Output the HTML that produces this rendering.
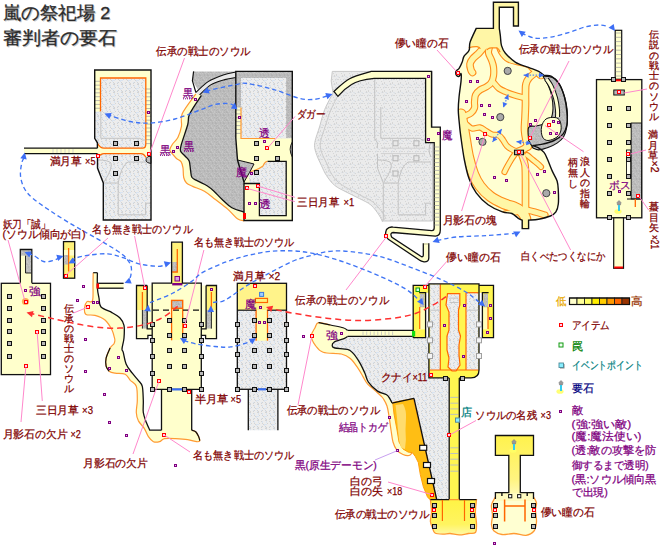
<!DOCTYPE html>
<html><head><meta charset="utf-8"><title>嵐の祭祀場2 審判者の要石</title>
<style>
html,body{margin:0;padding:0;background:#fff;}
body{width:662px;height:546px;overflow:hidden;font-family:"Liberation Sans",sans-serif;}
svg{display:block;}
svg text{font-family:"Liberation Sans",sans-serif;}
</style></head><body>
<svg width="662" height="546" viewBox="0 0 662 546">
<defs>
<pattern id="st" width="8" height="8" patternUnits="userSpaceOnUse"><rect width="8" height="8" fill="#ededed"/><rect x="1" y="2" width="1" height="1" fill="#d4d4d4"/><rect x="2" y="4" width="1" height="1" fill="#d4d4d4"/><rect x="1" y="4" width="1" height="1" fill="#d4d4d4"/><rect x="3" y="7" width="1" height="1" fill="#d4d4d4"/><rect x="6" y="2" width="1" height="1" fill="#d4d4d4"/><rect x="6" y="7" width="1" height="1" fill="#d4d4d4"/><rect x="2" y="3" width="1" height="1" fill="#d4d4d4"/><rect x="7" y="0" width="1" height="1" fill="#d4d4d4"/><rect x="5" y="3" width="1" height="1" fill="#d4d4d4"/><rect x="5" y="5" width="1" height="1" fill="#d4d4d4"/><rect x="0" y="0" width="1" height="1" fill="#dae4f0"/><rect x="2" y="5" width="1" height="1" fill="#dae4f0"/><rect x="0" y="1" width="1" height="1" fill="#dae4f0"/><rect x="2" y="0" width="1" height="1" fill="#dae4f0"/><rect x="1" y="0" width="1" height="1" fill="#dae4f0"/><rect x="2" y="6" width="1" height="1" fill="#dae4f0"/><rect x="1" y="3" width="1" height="1" fill="#dae4f0"/><rect x="6" y="6" width="1" height="1" fill="#dae4f0"/><rect x="6" y="5" width="1" height="1" fill="#dae4f0"/><rect x="5" y="2" width="1" height="1" fill="#dae4f0"/></pattern>
<pattern id="sd" width="8" height="8" patternUnits="userSpaceOnUse"><rect width="8" height="8" fill="#bcbcbc"/><rect x="4" y="3" width="1" height="1" fill="#b2b2b2"/><rect x="0" y="6" width="1" height="1" fill="#b2b2b2"/><rect x="2" y="0" width="1" height="1" fill="#b2b2b2"/><rect x="3" y="0" width="1" height="1" fill="#b2b2b2"/><rect x="1" y="5" width="1" height="1" fill="#b2b2b2"/><rect x="7" y="3" width="1" height="1" fill="#b2b2b2"/><rect x="0" y="3" width="1" height="1" fill="#b2b2b2"/><rect x="6" y="5" width="1" height="1" fill="#b2b2b2"/><rect x="4" y="2" width="1" height="1" fill="#b2b2b2"/><rect x="2" y="7" width="1" height="1" fill="#b2b2b2"/><rect x="7" y="2" width="1" height="1" fill="#b2b2b2"/><rect x="0" y="0" width="1" height="1" fill="#b2b2b2"/><rect x="6" y="7" width="1" height="1" fill="#c6c6c6"/><rect x="5" y="1" width="1" height="1" fill="#c6c6c6"/><rect x="2" y="1" width="1" height="1" fill="#c6c6c6"/><rect x="1" y="4" width="1" height="1" fill="#c6c6c6"/><rect x="3" y="6" width="1" height="1" fill="#c6c6c6"/><rect x="6" y="0" width="1" height="1" fill="#c6c6c6"/><rect x="4" y="7" width="1" height="1" fill="#c6c6c6"/><rect x="0" y="1" width="1" height="1" fill="#c6c6c6"/><rect x="3" y="5" width="1" height="1" fill="#c6c6c6"/><rect x="6" y="4" width="1" height="1" fill="#c6c6c6"/></pattern>
<pattern id="sl" width="8" height="8" patternUnits="userSpaceOnUse"><rect width="8" height="8" fill="#ebebeb"/><rect x="0" y="2" width="1" height="1" fill="#d6d6d6"/><rect x="2" y="7" width="1" height="1" fill="#d6d6d6"/><rect x="4" y="7" width="1" height="1" fill="#d6d6d6"/><rect x="5" y="1" width="1" height="1" fill="#d6d6d6"/><rect x="6" y="3" width="1" height="1" fill="#d6d6d6"/><rect x="1" y="7" width="1" height="1" fill="#d6d6d6"/><rect x="6" y="4" width="1" height="1" fill="#d6d6d6"/><rect x="0" y="3" width="1" height="1" fill="#d6d6d6"/><rect x="7" y="7" width="1" height="1" fill="#d6d6d6"/><rect x="3" y="5" width="1" height="1" fill="#d6d6d6"/><rect x="5" y="4" width="1" height="1" fill="#dfe3e8"/><rect x="0" y="7" width="1" height="1" fill="#dfe3e8"/><rect x="2" y="4" width="1" height="1" fill="#dfe3e8"/><rect x="7" y="4" width="1" height="1" fill="#dfe3e8"/><rect x="0" y="6" width="1" height="1" fill="#dfe3e8"/><rect x="2" y="5" width="1" height="1" fill="#dfe3e8"/><rect x="1" y="4" width="1" height="1" fill="#dfe3e8"/><rect x="7" y="0" width="1" height="1" fill="#dfe3e8"/></pattern>
<linearGradient id="gy" x1="0" y1="0" x2="0" y2="1"><stop offset="0" stop-color="#fff345"/><stop offset="0.7" stop-color="#fff460"/><stop offset="1" stop-color="#fff9a8"/></linearGradient>
<linearGradient id="gy2" x1="0" y1="0" x2="0" y2="1"><stop offset="0" stop-color="#fff24d"/><stop offset="0.7" stop-color="#fff480"/><stop offset="1" stop-color="#fffbc0"/></linearGradient>
<symbol id="ks" width="10" height="14" viewBox="0 0 10 14"><ellipse cx="4" cy="11.5" rx="3.6" ry="2.3" fill="#ffff66" opacity="0.9"/><path d="M5,0.5 L7,2.5 L6.5,5 L3.5,5 L3,2.5 Z" fill="#999" stroke="#777" stroke-width="0.5"/><rect x="4" y="5" width="2" height="6" fill="#33ccee"/></symbol>
<symbol id="pl" width="5" height="5" viewBox="0 0 5 5"><rect x="0.5" y="0.5" width="4" height="4" fill="#b8b8b8" stroke="#111" stroke-width="1"/></symbol>
<symbol id="it" width="4" height="4" viewBox="0 0 4 4"><rect x="0.5" y="0.5" width="3" height="3" fill="#ffd0f4" stroke="#ff0000" stroke-width="1"/></symbol>
<symbol id="en" width="3" height="3" viewBox="0 0 3 3"><rect x="0.5" y="0.5" width="2" height="2" fill="#e8c0f0" stroke="#800080" stroke-width="1"/></symbol>
</defs>
<g font-weight="normal">
</g>
<path d="M94.7,70 H151 V148 H97.4 V142.8 L94.7,138.3 Z" fill="#ffffcc" stroke="none" stroke-width="1" />
<path d="M100.5,78 H145.8 V148 H97.4 V142.8 L94.7,138.3 V111.5 H100.5 Z" fill="url(#st)" stroke="none" stroke-width="1" />
<path d="M97.4,153.6 H151 V220 H103.3 V183 L97.5,168 Z" fill="url(#st)" stroke="none" stroke-width="1" />
<path d="M97.4,143 Q100,148 104,148.2 H142.6 Q145.8,147 145.8,144 V148 H151 V157.5 H146 Q144,153.6 141,153.6 H104 Q100,154 98,157.5 H97.4 Z" fill="#ffffcc" stroke="none" stroke-width="1" />
<path d="M151,78 V148" fill="none" stroke="#ffffcc" stroke-width="0" />
<rect x="145.8" y="78" width="5.2" height="66" fill="#ffffcc" stroke="none" stroke-width="1" />
<line x1="95" y1="81.3" x2="100.5" y2="81.3" stroke="#a8a8a8" stroke-width="0.8" />
<line x1="95" y1="85.14999999999999" x2="100.5" y2="85.14999999999999" stroke="#a8a8a8" stroke-width="0.8" />
<line x1="95" y1="88.99999999999999" x2="100.5" y2="88.99999999999999" stroke="#a8a8a8" stroke-width="0.8" />
<line x1="95" y1="92.84999999999998" x2="100.5" y2="92.84999999999998" stroke="#a8a8a8" stroke-width="0.8" />
<line x1="95" y1="96.69999999999997" x2="100.5" y2="96.69999999999997" stroke="#a8a8a8" stroke-width="0.8" />
<line x1="95" y1="100.54999999999997" x2="100.5" y2="100.54999999999997" stroke="#a8a8a8" stroke-width="0.8" />
<line x1="95" y1="104.39999999999996" x2="100.5" y2="104.39999999999996" stroke="#a8a8a8" stroke-width="0.8" />
<line x1="95" y1="108.24999999999996" x2="100.5" y2="108.24999999999996" stroke="#a8a8a8" stroke-width="0.8" />
<line x1="145.8" y1="89" x2="151" y2="89" stroke="#a8a8a8" stroke-width="0.8" />
<line x1="145.8" y1="92.9" x2="151" y2="92.9" stroke="#a8a8a8" stroke-width="0.8" />
<line x1="145.8" y1="96.80000000000001" x2="151" y2="96.80000000000001" stroke="#a8a8a8" stroke-width="0.8" />
<line x1="145.8" y1="100.70000000000002" x2="151" y2="100.70000000000002" stroke="#a8a8a8" stroke-width="0.8" />
<line x1="145.8" y1="104.60000000000002" x2="151" y2="104.60000000000002" stroke="#a8a8a8" stroke-width="0.8" />
<line x1="145.8" y1="108.50000000000003" x2="151" y2="108.50000000000003" stroke="#a8a8a8" stroke-width="0.8" />
<line x1="145.8" y1="112.40000000000003" x2="151" y2="112.40000000000003" stroke="#a8a8a8" stroke-width="0.8" />
<line x1="145.8" y1="116.30000000000004" x2="151" y2="116.30000000000004" stroke="#a8a8a8" stroke-width="0.8" />
<line x1="145.8" y1="120.20000000000005" x2="151" y2="120.20000000000005" stroke="#a8a8a8" stroke-width="0.8" />
<line x1="145.8" y1="124.10000000000005" x2="151" y2="124.10000000000005" stroke="#a8a8a8" stroke-width="0.8" />
<line x1="145.8" y1="128.00000000000006" x2="151" y2="128.00000000000006" stroke="#a8a8a8" stroke-width="0.8" />
<line x1="145.8" y1="131.90000000000006" x2="151" y2="131.90000000000006" stroke="#a8a8a8" stroke-width="0.8" />
<line x1="145.8" y1="135.80000000000007" x2="151" y2="135.80000000000007" stroke="#a8a8a8" stroke-width="0.8" />
<line x1="145.8" y1="139.70000000000007" x2="151" y2="139.70000000000007" stroke="#a8a8a8" stroke-width="0.8" />
<line x1="145.8" y1="143.60000000000008" x2="151" y2="143.60000000000008" stroke="#a8a8a8" stroke-width="0.8" />
<path d="M100.5,111.5 V78 H145.8 V144 Q145.8,148.2 142.6,148.2 H104 Q100,148 97.6,143.5" fill="none" stroke="#ff6600" stroke-width="1.3" />
<path d="M98,157.5 Q100.5,153.6 104,153.6 H141 Q144,153.6 146,157.5" fill="none" stroke="#ff6600" stroke-width="1.3" />
<path d="M100.8,111.5 V138.3 H140 L142,140 H145.5" fill="none" stroke="#c4c4c4" stroke-width="1" />
<path d="M98,160 Q108,160 111,163 Q113,168 104,182 M103.3,183 H118.2 V214.8 H145.6 V203.2 H151" fill="none" stroke="#c4c4c4" stroke-width="1" />
<path d="M118.2,183 Q121,166 128,162 H151" fill="none" stroke="#c4c4c4" stroke-width="1" />
<path d="M151,156.5 H148 Q145.5,158 146,161 Q147,163 151,163.5 Z" fill="url(#sd)" stroke="#111" stroke-width="0.9" />
<path d="M97.4,148.2 V142.8 L94.7,138.3 V70 H151 V220 H103.3 V183 L97.5,168 V153.6" fill="none" stroke="#111" stroke-width="1.4" />
<rect x="24" y="148.2" width="73.4" height="5.4" fill="#ffffcc" stroke="none" stroke-width="1" />
<line x1="24" y1="148.2" x2="97.4" y2="148.2" stroke="#111" stroke-width="1.3" />
<line x1="24" y1="153.6" x2="97.4" y2="153.6" stroke="#111" stroke-width="1.3" />
<line x1="53" y1="149" x2="53" y2="153" stroke="#c8c8c8" stroke-width="0.8" />
<line x1="57" y1="149" x2="57" y2="153" stroke="#c8c8c8" stroke-width="0.8" />
<line x1="61" y1="149" x2="61" y2="153" stroke="#c8c8c8" stroke-width="0.8" />
<line x1="65" y1="149" x2="65" y2="153" stroke="#c8c8c8" stroke-width="0.8" />
<line x1="69" y1="149" x2="69" y2="153" stroke="#c8c8c8" stroke-width="0.8" />
<line x1="73" y1="149" x2="73" y2="153" stroke="#c8c8c8" stroke-width="0.8" />
<use href="#pl" x="113" y="141"/>
<use href="#pl" x="134" y="141"/>
<use href="#pl" x="113" y="156"/>
<use href="#pl" x="134" y="156"/>
<use href="#pl" x="113" y="171"/>
<use href="#it" x="96" y="154"/>
<use href="#it" x="147" y="152"/>
<use href="#en" x="147" y="111"/>
<path d="M201.4,95.3 C199.4,98.4 192.0,108.9 189.7,113.8 C187.4,118.7 189.1,119.8 187.7,124.8 C186.3,129.8 182.7,139.6 181.5,144.0 C180.3,148.4 179.9,149.0 180.5,151.0 C181.1,153.0 183.6,154.3 185.0,156.0 C186.4,157.7 188.3,158.6 189.2,161.0 C190.1,163.4 190.1,167.8 190.6,170.6 C191.1,173.3 190.8,175.8 192.0,177.5 C193.2,179.2 195.0,179.5 197.5,180.9 C200.0,182.3 204.3,184.0 207.1,185.7 C209.8,187.4 211.5,188.9 214.0,191.2 C216.5,193.5 219.2,196.8 222.2,199.5 C225.2,202.2 228.2,205.6 231.9,207.7 C235.6,209.8 242.1,211.3 244.2,212.0 L244.2,183 L237.5,160 L235.8,138 V71.4 H193.6 L192.4,80.8 Z" fill="url(#sd)" stroke="none" stroke-width="1" />
<path d="M195.8,92.4 C197.9,90.6 203.6,84.5 208.2,81.6 C212.8,78.7 218.6,76.6 223.2,75.0 C227.8,73.4 233.7,72.5 235.8,72.0 L235.8,77.5 C234.0,77.8 229.0,78.4 224.8,79.6 C220.6,80.8 215.0,82.2 210.7,84.9 C206.4,87.6 200.8,93.9 198.8,95.7 Z" fill="#e8e8e8" stroke="none" stroke-width="1" />
<path d="M195.8,92.4 C197.9,90.6 203.6,84.5 208.2,81.6 C212.8,78.7 218.6,76.6 223.2,75.0 C227.8,73.4 233.7,72.5 235.8,72.0" fill="none" stroke="#111" stroke-width="1.1" />
<path d="M198.8,95.7 C200.8,93.9 206.4,87.6 210.7,84.9 C215.0,82.2 220.6,80.8 224.8,79.6 C229.0,78.4 234.0,77.8 235.8,77.5" fill="none" stroke="#111" stroke-width="1.1" />
<path d="M195.9,93.9 C193.6,97.2 184.6,108.4 182.2,113.8 C179.8,119.2 182.2,122.3 181.5,126.2 C180.8,130.1 179.5,134.2 178.0,137.2 C176.5,140.2 174.0,141.9 172.6,144.0 C171.2,146.1 170.0,148.2 169.8,149.6 C169.6,151.0 170.3,151.3 171.4,152.7 C172.5,154.1 174.6,156.7 176.2,158.2 C177.8,159.7 179.9,160.1 181.0,161.7 C182.1,163.3 182.6,165.3 183.0,167.9 C183.4,170.5 183.1,175.0 183.7,177.5 C184.3,180.0 185.0,181.5 186.5,183.0 C188.0,184.5 189.7,185.0 192.7,186.4 C195.7,187.8 200.6,189.0 204.4,191.2 C208.2,193.4 211.5,196.5 215.4,199.5 C219.3,202.5 224.0,205.9 227.7,209.1 C231.4,212.3 234.7,216.8 237.4,218.7 C240.2,220.6 243.1,220.5 244.2,220.8 L244.2,212.0 C242.1,211.3 235.6,209.8 231.9,207.7 C228.2,205.6 225.2,202.2 222.2,199.5 C219.2,196.8 216.5,193.5 214.0,191.2 C211.5,188.9 209.8,187.4 207.1,185.7 C204.3,184.0 200.0,182.3 197.5,180.9 C195.0,179.5 193.2,179.2 192.0,177.5 C190.8,175.8 191.1,173.3 190.6,170.6 C190.1,167.8 190.1,163.4 189.2,161.0 C188.3,158.6 186.4,157.7 185.0,156.0 C183.6,154.3 181.1,153.0 180.5,151.0 C179.9,149.0 180.3,148.4 181.5,144.0 C182.7,139.6 186.3,129.8 187.7,124.8 C189.1,119.8 187.4,118.7 189.7,113.8 C192.0,108.9 199.4,98.4 201.4,95.3 Z" fill="#ffffcc" stroke="none" stroke-width="1" />
<path d="M195.9,93.9 C193.6,97.2 184.6,108.4 182.2,113.8 C179.8,119.2 182.2,122.3 181.5,126.2 C180.8,130.1 179.5,134.2 178.0,137.2 C176.5,140.2 174.0,141.9 172.6,144.0 C171.2,146.1 170.0,148.2 169.8,149.6 C169.6,151.0 170.3,151.3 171.4,152.7 C172.5,154.1 174.6,156.7 176.2,158.2 C177.8,159.7 179.9,160.1 181.0,161.7 C182.1,163.3 182.6,165.3 183.0,167.9 C183.4,170.5 183.1,175.0 183.7,177.5 C184.3,180.0 185.0,181.5 186.5,183.0 C188.0,184.5 189.7,185.0 192.7,186.4 C195.7,187.8 200.6,189.0 204.4,191.2 C208.2,193.4 211.5,196.5 215.4,199.5 C219.3,202.5 224.0,205.9 227.7,209.1 C231.4,212.3 234.7,216.8 237.4,218.7 C240.2,220.6 243.1,220.5 244.2,220.8" fill="none" stroke="#ff9a33" stroke-width="1.2" />
<path d="M201.4,95.3 C199.4,98.4 192.0,108.9 189.7,113.8 C187.4,118.7 189.1,119.8 187.7,124.8 C186.3,129.8 182.7,139.6 181.5,144.0 C180.3,148.4 179.9,149.0 180.5,151.0 C181.1,153.0 183.6,154.3 185.0,156.0 C186.4,157.7 188.3,158.6 189.2,161.0 C190.1,163.4 190.1,167.8 190.6,170.6 C191.1,173.3 190.8,175.8 192.0,177.5 C193.2,179.2 195.0,179.5 197.5,180.9 C200.0,182.3 204.3,184.0 207.1,185.7 C209.8,187.4 211.5,188.9 214.0,191.2 C216.5,193.5 219.2,196.8 222.2,199.5 C225.2,202.2 228.2,205.6 231.9,207.7 C235.6,209.8 242.1,211.3 244.2,212.0" fill="none" stroke="#111" stroke-width="1.3" />
<path d="M193.6,71.4 L192.4,80.8 L195.9,92.5" fill="none" stroke="#111" stroke-width="1.2" />
<rect x="235.8" y="71.4" width="56.5" height="67" fill="url(#sd)" stroke="none" stroke-width="1" />
<rect x="241" y="78" width="45" height="60.5" fill="url(#st)" stroke="none" stroke-width="1" />
<path d="M235.8,138.5 H292.3 V220.5 H244 V182 L237.5,160 Z" fill="#ffffcc" stroke="none" stroke-width="1" />
<rect x="236" y="107.5" width="5" height="31" fill="#ffffcc" stroke="none" stroke-width="1" />
<line x1="236" y1="110" x2="241" y2="110" stroke="#a8a8a8" stroke-width="0.8" />
<line x1="236" y1="113.9" x2="241" y2="113.9" stroke="#a8a8a8" stroke-width="0.8" />
<line x1="236" y1="117.80000000000001" x2="241" y2="117.80000000000001" stroke="#a8a8a8" stroke-width="0.8" />
<line x1="236" y1="121.70000000000002" x2="241" y2="121.70000000000002" stroke="#a8a8a8" stroke-width="0.8" />
<line x1="236" y1="125.60000000000002" x2="241" y2="125.60000000000002" stroke="#a8a8a8" stroke-width="0.8" />
<line x1="236" y1="129.50000000000003" x2="241" y2="129.50000000000003" stroke="#a8a8a8" stroke-width="0.8" />
<line x1="236" y1="133.40000000000003" x2="241" y2="133.40000000000003" stroke="#a8a8a8" stroke-width="0.8" />
<path d="M241,107.5 V138.5 H275" fill="none" stroke="#ff9a33" stroke-width="1.2" />
<path d="M267.6,161.3 H286.2 V215.6 H259.4 V183 H250 Q248,175 249,172 Q258,170 263,166 Q265,161.3 267.6,161.3 Z" fill="url(#st)" stroke="none" stroke-width="1" />
<path d="M249,172 Q258,170 263,166 Q265,161.3 267.6,161.3" fill="none" stroke="#ff9a33" stroke-width="1.2" />
<path d="M267.6,161.3 H286.2 V215.6 H259.4 V183.5 H244" fill="none" stroke="#111" stroke-width="1.3" />
<path d="M237.5,160 Q246,162 254,164 Q250,172 244,182 Z" fill="url(#sd)" stroke="none" stroke-width="1" />
<path d="M237.5,160 Q246,162 254,164 Q250,172 244,182" fill="none" stroke="#111" stroke-width="1" />
<path d="M292.3,142 Q288,149 292.3,157" fill="url(#sd)" stroke="#111" stroke-width="0.9" />
<path d="M235.8,138 V71.4 H292.3 V220.5 H244 V182 L237.5,160 L235.8,138" fill="none" stroke="#111" stroke-width="1.4" />
<use href="#pl" x="254" y="141"/>
<use href="#pl" x="275" y="141"/>
<use href="#pl" x="254" y="156"/>
<use href="#pl" x="275" y="156"/>
<use href="#pl" x="254" y="170"/>
<use href="#it" x="265" y="146"/>
<use href="#it" x="245" y="186"/>
<use href="#it" x="256" y="184"/>
<rect x="243" y="213" width="3" height="6" fill="#ff0000"/>
<use href="#en" x="263" y="140"/>
<use href="#en" x="250" y="172"/>
<use href="#en" x="248" y="202"/>
<use href="#en" x="254" y="202"/>
<use href="#en" x="238" y="116"/>
<use href="#en" x="194" y="98"/>
<use href="#en" x="172" y="150"/>
<use href="#en" x="176" y="146"/>
<path d="M332.3,71.4 L431.5,71.4 L434.0,229.0 L425.0,222.0 L382.4,221.6 Z" fill="none" stroke="none" stroke-width="1" />
<path d="M332.3,71.4 H432.5 V221 H382.4 L382.4,221.6 C381.8,220.5 380.9,217.8 379.0,215.0 C377.1,212.2 374.2,207.8 370.9,205.0 C367.6,202.2 363.4,200.7 359.3,198.5 C355.2,196.3 350.1,194.1 346.0,191.9 C341.9,189.7 337.9,188.1 334.6,185.3 C331.3,182.6 328.6,178.7 326.4,175.4 C324.2,172.1 323.2,169.3 321.4,165.5 C319.6,161.7 316.9,156.2 315.8,152.3 C314.7,148.5 314.1,146.8 314.8,142.4 C315.5,138.0 318.2,131.5 319.8,126.0 C321.4,120.5 322.5,115.0 324.7,109.5 C326.9,104.0 331.6,95.8 333.0,93.0 L331.2,81 Z" fill="url(#sl)" stroke="#c9c9c9" stroke-width="1" />
<path d="M386.0,219.0 C385.3,217.8 384.2,214.8 382.0,212.0 C379.8,209.2 376.7,204.8 373.0,202.0 C369.3,199.2 364.2,197.2 360.0,195.0 C355.8,192.8 351.7,190.7 348.0,188.5 C344.3,186.3 340.8,184.6 338.0,182.0 C335.2,179.4 332.8,176.0 331.0,173.0 C329.2,170.0 328.6,167.5 327.0,164.0 C325.4,160.5 322.6,155.6 321.5,152.0 C320.4,148.4 319.9,146.7 320.5,142.5 C321.1,138.3 323.4,132.1 325.0,127.0 C326.6,121.9 328.0,117.0 330.0,112.0 C332.0,107.0 335.8,99.5 337.0,97.0" fill="none" stroke="#cccccc" stroke-width="1" />
<path d="M374.7,78 V138.3 L377.4,142.8 V148.2 M377.5,153.6 V168 L383.3,183 V220.5" fill="none" stroke="#c4c4c4" stroke-width="1" />
<path d="M380.8,107 V138.3 H420 L422,140 H425.5" fill="none" stroke="#c4c4c4" stroke-width="1" />
<path d="M378,160 Q388,160 391,163 Q393,168 384,182 M383.3,183 H398.2 V214.8 H425.6 V203.2 H431" fill="none" stroke="#c4c4c4" stroke-width="1" />
<path d="M398.2,183 Q401,166 408,162 H431" fill="none" stroke="#c4c4c4" stroke-width="1" />
<path d="M380.8,148.2 H425 M380.8,153.6 H425" fill="none" stroke="#d2d2d2" stroke-width="1" />
<rect x="393.0" y="140.8" width="5" height="5" fill="#e8e8e8" stroke="#b4b4b4" stroke-width="1" />
<rect x="413.9" y="140.8" width="5" height="5" fill="#e8e8e8" stroke="#b4b4b4" stroke-width="1" />
<rect x="393.0" y="155.8" width="5" height="5" fill="#e8e8e8" stroke="#b4b4b4" stroke-width="1" />
<rect x="413.9" y="155.8" width="5" height="5" fill="#e8e8e8" stroke="#b4b4b4" stroke-width="1" />
<rect x="393.0" y="171.0" width="5" height="5" fill="#e8e8e8" stroke="#b4b4b4" stroke-width="1" />
<path d="M431,142 Q427,150 431,157" fill="none" stroke="#c0c0c0" stroke-width="1" />
<path d="M333.9,91.4 C336.5,89.3 343.4,82.0 349.6,78.7 C355.8,75.4 367.6,72.6 371.2,71.4 H431.5 V127.2 H440.3 V230 Q440.3,236.1 435.4,236.1 L393,232.5 Q389.5,233 391.9,237.4 L421.5,256.7 Q423.3,257 423.3,255 V244 H428.8 V258 Q428.8,262 424,261.8 Q421,261.5 419.7,260.3 L388.3,239.2 Q384,236 386.5,229.5 Q389,226.5 393.1,227.1 L431.8,230.7 Q434.2,230.5 434.2,228 V142.6 H425.6 V78.3 H374.2 Q358,80 351.6,84.5 Q344,89 337.9,96.3 Z" fill="#ffffcc" stroke="#111" stroke-width="1.3" />
<line x1="423.9" y1="244" x2="428.2" y2="244" stroke="#ffffcc" stroke-width="1.6" />
<line x1="434.5" y1="147" x2="440" y2="147" stroke="#a8a8a8" stroke-width="0.8" />
<line x1="434.5" y1="150.9" x2="440" y2="150.9" stroke="#a8a8a8" stroke-width="0.8" />
<line x1="434.5" y1="154.8" x2="440" y2="154.8" stroke="#a8a8a8" stroke-width="0.8" />
<line x1="434.5" y1="158.70000000000002" x2="440" y2="158.70000000000002" stroke="#a8a8a8" stroke-width="0.8" />
<line x1="434.5" y1="162.60000000000002" x2="440" y2="162.60000000000002" stroke="#a8a8a8" stroke-width="0.8" />
<line x1="434.5" y1="166.50000000000003" x2="440" y2="166.50000000000003" stroke="#a8a8a8" stroke-width="0.8" />
<line x1="434.5" y1="170.40000000000003" x2="440" y2="170.40000000000003" stroke="#a8a8a8" stroke-width="0.8" />
<line x1="434.5" y1="174.30000000000004" x2="440" y2="174.30000000000004" stroke="#a8a8a8" stroke-width="0.8" />
<line x1="434.5" y1="178.20000000000005" x2="440" y2="178.20000000000005" stroke="#a8a8a8" stroke-width="0.8" />
<line x1="434.5" y1="182.10000000000005" x2="440" y2="182.10000000000005" stroke="#a8a8a8" stroke-width="0.8" />
<line x1="434.5" y1="186.00000000000006" x2="440" y2="186.00000000000006" stroke="#a8a8a8" stroke-width="0.8" />
<line x1="434.5" y1="189.90000000000006" x2="440" y2="189.90000000000006" stroke="#a8a8a8" stroke-width="0.8" />
<line x1="434.5" y1="193.80000000000007" x2="440" y2="193.80000000000007" stroke="#a8a8a8" stroke-width="0.8" />
<line x1="434.5" y1="197.70000000000007" x2="440" y2="197.70000000000007" stroke="#a8a8a8" stroke-width="0.8" />
<line x1="434.5" y1="201.60000000000008" x2="440" y2="201.60000000000008" stroke="#a8a8a8" stroke-width="0.8" />
<line x1="434.5" y1="205.50000000000009" x2="440" y2="205.50000000000009" stroke="#a8a8a8" stroke-width="0.8" />
<line x1="434.5" y1="209.4000000000001" x2="440" y2="209.4000000000001" stroke="#a8a8a8" stroke-width="0.8" />
<line x1="434.5" y1="213.3000000000001" x2="440" y2="213.3000000000001" stroke="#a8a8a8" stroke-width="0.8" />
<line x1="434.5" y1="217.2000000000001" x2="440" y2="217.2000000000001" stroke="#a8a8a8" stroke-width="0.8" />
<line x1="434.5" y1="221.1000000000001" x2="440" y2="221.1000000000001" stroke="#a8a8a8" stroke-width="0.8" />
<line x1="434.5" y1="225.0000000000001" x2="440" y2="225.0000000000001" stroke="#a8a8a8" stroke-width="0.8" />
<use href="#en" x="427" y="75"/>
<use href="#en" x="437" y="132"/>
<use href="#en" x="427" y="138"/>
<use href="#it" x="384" y="234"/>
<clipPath id="cvc"><path d="M493.4,28.4 V2.3 H518.4 V26 H513.5 V7.3 H499.3 V28.4 L499.3,28.4 C499.5,29.6 499.9,32.5 500.3,35.4 C500.7,38.3 500.6,42.6 501.5,45.6 C502.4,48.6 503.0,50.5 505.4,53.3 C507.8,56.1 511.8,59.9 515.6,62.3 C519.5,64.7 524.6,65.9 528.5,67.4 C532.4,68.9 536.2,70.0 538.7,71.3 C541.2,72.6 541.7,74.2 543.8,75.1 C545.9,75.9 548.9,74.9 551.5,76.4 C554.1,77.9 557.1,80.7 559.2,84.1 C561.4,87.5 563.1,92.2 564.4,96.9 C565.7,101.6 566.5,107.6 566.9,112.3 C567.3,117.0 567.5,121.5 566.9,125.1 C566.2,128.7 565.1,131.5 563.0,134.1 C560.9,136.7 557.7,138.8 554.1,140.5 C550.5,142.2 544.9,143.6 541.3,144.4 C537.7,145.2 533.8,145.4 532.3,145.6 L532.3,145.6 C533.3,145.9 536.1,146.5 538.1,147.6 C540.1,148.7 542.4,150.4 544.0,152.4 C545.6,154.4 546.2,156.3 547.6,159.5 C549.0,162.7 550.8,167.8 552.4,171.4 C554.0,175.0 556.1,177.8 557.1,181.0 C558.1,184.2 558.1,186.7 558.3,190.5 C558.5,194.3 558.7,200.4 558.3,204.0 C557.9,207.6 557.2,209.9 555.9,211.9 C554.6,213.9 553.3,214.8 550.4,216.0 C547.5,217.2 542.1,218.5 538.5,219.2 C534.9,219.9 530.2,219.9 528.6,220.1 L528.6,228.6 H522.2 L522.2,220.1 C521.6,219.8 520.0,219.4 518.3,218.3 C516.6,217.2 514.5,214.6 511.9,213.5 C509.2,212.4 506.4,213.3 502.4,211.9 C498.4,210.5 492.5,208.0 488.1,204.8 C483.7,201.6 479.4,197.3 476.2,192.9 C473.0,188.5 471.0,184.2 469.0,178.6 C467.0,173.0 465.7,166.7 464.3,159.5 C462.9,152.3 461.5,141.4 460.7,135.7 C459.9,129.9 459.9,129.2 459.5,125.0 C459.1,120.8 458.4,115.3 458.3,110.6 C458.2,105.8 458.6,101.5 459.1,96.5 C459.6,91.5 460.8,84.2 461.1,80.4 C461.4,76.6 461.5,74.2 461.1,73.5 C460.8,72.8 459.8,76.1 459.0,76.4 C458.2,76.7 457.0,76.2 456.5,75.4 C456.0,74.6 455.6,72.5 456.0,71.3 C456.4,70.1 458.1,69.8 459.1,68.3 C460.1,66.8 461.3,64.3 462.1,62.3 C462.9,60.3 462.9,58.2 464.1,56.2 C465.3,54.2 468.1,52.6 469.1,50.2 C470.1,47.9 468.9,45.7 470.1,42.1 C471.3,38.5 475.2,30.7 476.2,28.4 Z"/></clipPath>
<path d="M493.4,28.4 V2.3 H518.4 V26 H513.5 V7.3 H499.3 V28.4 L499.3,28.4 C499.5,29.6 499.9,32.5 500.3,35.4 C500.7,38.3 500.6,42.6 501.5,45.6 C502.4,48.6 503.0,50.5 505.4,53.3 C507.8,56.1 511.8,59.9 515.6,62.3 C519.5,64.7 524.6,65.9 528.5,67.4 C532.4,68.9 536.2,70.0 538.7,71.3 C541.2,72.6 541.7,74.2 543.8,75.1 C545.9,75.9 548.9,74.9 551.5,76.4 C554.1,77.9 557.1,80.7 559.2,84.1 C561.4,87.5 563.1,92.2 564.4,96.9 C565.7,101.6 566.5,107.6 566.9,112.3 C567.3,117.0 567.5,121.5 566.9,125.1 C566.2,128.7 565.1,131.5 563.0,134.1 C560.9,136.7 557.7,138.8 554.1,140.5 C550.5,142.2 544.9,143.6 541.3,144.4 C537.7,145.2 533.8,145.4 532.3,145.6 L532.3,145.6 C533.3,145.9 536.1,146.5 538.1,147.6 C540.1,148.7 542.4,150.4 544.0,152.4 C545.6,154.4 546.2,156.3 547.6,159.5 C549.0,162.7 550.8,167.8 552.4,171.4 C554.0,175.0 556.1,177.8 557.1,181.0 C558.1,184.2 558.1,186.7 558.3,190.5 C558.5,194.3 558.7,200.4 558.3,204.0 C557.9,207.6 557.2,209.9 555.9,211.9 C554.6,213.9 553.3,214.8 550.4,216.0 C547.5,217.2 542.1,218.5 538.5,219.2 C534.9,219.9 530.2,219.9 528.6,220.1 L528.6,228.6 H522.2 L522.2,220.1 C521.6,219.8 520.0,219.4 518.3,218.3 C516.6,217.2 514.5,214.6 511.9,213.5 C509.2,212.4 506.4,213.3 502.4,211.9 C498.4,210.5 492.5,208.0 488.1,204.8 C483.7,201.6 479.4,197.3 476.2,192.9 C473.0,188.5 471.0,184.2 469.0,178.6 C467.0,173.0 465.7,166.7 464.3,159.5 C462.9,152.3 461.5,141.4 460.7,135.7 C459.9,129.9 459.9,129.2 459.5,125.0 C459.1,120.8 458.4,115.3 458.3,110.6 C458.2,105.8 458.6,101.5 459.1,96.5 C459.6,91.5 460.8,84.2 461.1,80.4 C461.4,76.6 461.5,74.2 461.1,73.5 C460.8,72.8 459.8,76.1 459.0,76.4 C458.2,76.7 457.0,76.2 456.5,75.4 C456.0,74.6 455.6,72.5 456.0,71.3 C456.4,70.1 458.1,69.8 459.1,68.3 C460.1,66.8 461.3,64.3 462.1,62.3 C462.9,60.3 462.9,58.2 464.1,56.2 C465.3,54.2 468.1,52.6 469.1,50.2 C470.1,47.9 468.9,45.7 470.1,42.1 C471.3,38.5 475.2,30.7 476.2,28.4 Z" fill="#ffffd2" stroke="none" stroke-width="1" />
<g clip-path="url(#cvc)" fill="none" stroke-linecap="round" stroke-linejoin="round">
<path d="M484.0,47.0 C483.2,48.0 480.8,51.1 479.0,53.0 C477.2,54.9 474.5,56.7 473.0,58.5 C471.5,60.3 470.3,62.1 470.0,64.0 C469.7,65.9 470.6,68.6 471.0,70.0 C471.4,71.4 472.2,72.1 472.5,72.5" stroke="#ff8c1a" stroke-width="7.7"/>
<path d="M489.5,47.0 C489.3,48.0 488.2,50.8 488.5,53.0 C488.8,55.2 490.7,57.7 491.5,60.0 C492.3,62.3 493.2,64.3 493.5,67.0 C493.8,69.7 493.9,73.3 493.5,76.0 C493.1,78.7 492.2,81.2 491.0,83.0 C489.8,84.8 487.8,85.8 486.0,87.0 C484.2,88.2 481.8,88.7 480.0,90.0 C478.2,91.3 476.4,93.0 475.5,95.0 C474.6,97.0 474.7,99.8 474.5,102.0 C474.3,104.2 475.1,106.2 474.5,108.0 C473.9,109.8 472.6,111.7 471.0,113.0 C469.4,114.3 467.5,114.8 465.0,116.0 C462.5,117.2 457.5,119.3 456.0,120.0" stroke="#ff8c1a" stroke-width="7.2"/>
<path d="M494.0,83.0 C494.8,83.9 497.0,87.0 499.0,88.5 C501.0,90.0 503.5,90.9 506.0,92.0 C508.5,93.1 511.2,94.1 514.0,95.0 C516.8,95.9 521.5,97.1 523.0,97.5" stroke="#ff8c1a" stroke-width="6.7"/>
<path d="M499.0,42.0 C499.5,43.5 500.3,48.2 502.0,51.0 C503.7,53.8 506.0,56.8 509.0,58.5 C512.0,60.2 516.7,60.6 520.0,61.5 C523.3,62.4 526.5,62.7 529.0,64.0 C531.5,65.3 533.0,67.7 535.0,69.5 C537.0,71.3 540.0,74.1 541.0,75.0" stroke="#ff8c1a" stroke-width="8.7"/>
<path d="M535.0,73.0 C534.0,73.8 530.5,76.2 529.0,78.0 C527.5,79.8 526.6,81.7 526.0,84.0 C525.4,86.3 525.6,88.5 525.5,92.0 C525.4,95.5 525.6,100.7 525.5,105.0 C525.4,109.3 525.2,113.8 525.0,118.0 C524.8,122.2 524.3,126.3 524.5,130.0 C524.7,133.7 525.4,137.2 526.0,140.0 C526.6,142.8 527.7,145.8 528.0,147.0" stroke="#ff8c1a" stroke-width="7.7"/>
<path d="M461.0,114.0 C461.4,116.3 462.8,123.7 463.5,128.0 C464.2,132.3 464.7,135.2 465.5,140.0 C466.3,144.8 467.2,151.3 468.5,157.0 C469.8,162.7 471.6,169.2 473.5,174.0 C475.4,178.8 477.2,182.2 480.0,186.0 C482.8,189.8 486.6,193.6 490.5,196.5 C494.4,199.4 499.6,201.8 503.5,203.5 C507.4,205.2 511.1,205.8 514.0,207.0 C516.9,208.2 519.1,209.2 521.0,211.0 C522.9,212.8 524.8,215.8 525.5,218.0 C526.2,220.2 525.5,223.0 525.5,224.0" stroke="#ff8c1a" stroke-width="11.2"/>
<path d="M466.0,124.0 C467.0,124.8 469.7,127.9 472.0,128.5 C474.3,129.1 477.7,127.1 480.0,127.5 C482.3,127.9 484.0,129.8 486.0,131.0 C488.0,132.2 489.8,133.8 492.0,134.5 C494.2,135.2 497.2,134.6 499.0,135.5 C500.8,136.4 501.7,138.2 503.0,140.0 C504.3,141.8 505.3,144.3 507.0,146.0 C508.7,147.7 511.0,149.0 513.0,150.0 C515.0,151.0 518.0,151.7 519.0,152.0" stroke="#ff8c1a" stroke-width="6.4"/>
<path d="M517.0,152.0 C518.2,151.5 521.8,150.3 524.0,149.0 C526.2,147.7 529.0,144.8 530.0,144.0" stroke="#ff8c1a" stroke-width="8.2"/>
<path d="M515.0,154.0 C514.3,155.0 512.3,157.8 511.0,160.0 C509.7,162.2 508.1,165.0 507.0,167.0 C505.9,169.0 504.9,171.2 504.5,172.0" stroke="#ff8c1a" stroke-width="6.2"/>
<path d="M522.0,155.0 C522.5,156.7 524.4,160.8 525.0,165.0 C525.6,169.2 525.4,175.0 525.5,180.0 C525.6,185.0 525.5,190.8 525.5,195.0 C525.5,199.2 525.5,200.5 525.5,205.0 C525.5,209.5 525.5,219.2 525.5,222.0" stroke="#ff8c1a" stroke-width="7.7"/>
<path d="M527.0,155.0 C528.0,155.8 531.2,158.5 533.0,160.0 C534.8,161.5 536.7,162.8 538.0,164.0 C539.3,165.2 540.5,166.5 541.0,167.0" stroke="#ff8c1a" stroke-width="6.2"/>
<path d="M505.0,214.0 C506.7,213.7 511.7,212.7 515.0,212.0 C518.3,211.3 521.7,210.0 525.0,210.0 C528.3,210.0 531.7,211.2 535.0,212.0 C538.3,212.8 543.3,214.5 545.0,215.0" stroke="#ff8c1a" stroke-width="7.2"/>
<path d="M484.0,47.0 C483.2,48.0 480.8,51.1 479.0,53.0 C477.2,54.9 474.5,56.7 473.0,58.5 C471.5,60.3 470.3,62.1 470.0,64.0 C469.7,65.9 470.6,68.6 471.0,70.0 C471.4,71.4 472.2,72.1 472.5,72.5" stroke="#fff6a6" stroke-width="5.5"/>
<path d="M489.5,47.0 C489.3,48.0 488.2,50.8 488.5,53.0 C488.8,55.2 490.7,57.7 491.5,60.0 C492.3,62.3 493.2,64.3 493.5,67.0 C493.8,69.7 493.9,73.3 493.5,76.0 C493.1,78.7 492.2,81.2 491.0,83.0 C489.8,84.8 487.8,85.8 486.0,87.0 C484.2,88.2 481.8,88.7 480.0,90.0 C478.2,91.3 476.4,93.0 475.5,95.0 C474.6,97.0 474.7,99.8 474.5,102.0 C474.3,104.2 475.1,106.2 474.5,108.0 C473.9,109.8 472.6,111.7 471.0,113.0 C469.4,114.3 467.5,114.8 465.0,116.0 C462.5,117.2 457.5,119.3 456.0,120.0" stroke="#fff6a6" stroke-width="5"/>
<path d="M494.0,83.0 C494.8,83.9 497.0,87.0 499.0,88.5 C501.0,90.0 503.5,90.9 506.0,92.0 C508.5,93.1 511.2,94.1 514.0,95.0 C516.8,95.9 521.5,97.1 523.0,97.5" stroke="#fff6a6" stroke-width="4.5"/>
<path d="M499.0,42.0 C499.5,43.5 500.3,48.2 502.0,51.0 C503.7,53.8 506.0,56.8 509.0,58.5 C512.0,60.2 516.7,60.6 520.0,61.5 C523.3,62.4 526.5,62.7 529.0,64.0 C531.5,65.3 533.0,67.7 535.0,69.5 C537.0,71.3 540.0,74.1 541.0,75.0" stroke="#fff6a6" stroke-width="6.5"/>
<path d="M535.0,73.0 C534.0,73.8 530.5,76.2 529.0,78.0 C527.5,79.8 526.6,81.7 526.0,84.0 C525.4,86.3 525.6,88.5 525.5,92.0 C525.4,95.5 525.6,100.7 525.5,105.0 C525.4,109.3 525.2,113.8 525.0,118.0 C524.8,122.2 524.3,126.3 524.5,130.0 C524.7,133.7 525.4,137.2 526.0,140.0 C526.6,142.8 527.7,145.8 528.0,147.0" stroke="#fff6a6" stroke-width="5.5"/>
<path d="M461.0,114.0 C461.4,116.3 462.8,123.7 463.5,128.0 C464.2,132.3 464.7,135.2 465.5,140.0 C466.3,144.8 467.2,151.3 468.5,157.0 C469.8,162.7 471.6,169.2 473.5,174.0 C475.4,178.8 477.2,182.2 480.0,186.0 C482.8,189.8 486.6,193.6 490.5,196.5 C494.4,199.4 499.6,201.8 503.5,203.5 C507.4,205.2 511.1,205.8 514.0,207.0 C516.9,208.2 519.1,209.2 521.0,211.0 C522.9,212.8 524.8,215.8 525.5,218.0 C526.2,220.2 525.5,223.0 525.5,224.0" stroke="#fff6a6" stroke-width="9"/>
<path d="M466.0,124.0 C467.0,124.8 469.7,127.9 472.0,128.5 C474.3,129.1 477.7,127.1 480.0,127.5 C482.3,127.9 484.0,129.8 486.0,131.0 C488.0,132.2 489.8,133.8 492.0,134.5 C494.2,135.2 497.2,134.6 499.0,135.5 C500.8,136.4 501.7,138.2 503.0,140.0 C504.3,141.8 505.3,144.3 507.0,146.0 C508.7,147.7 511.0,149.0 513.0,150.0 C515.0,151.0 518.0,151.7 519.0,152.0" stroke="#fff6a6" stroke-width="4.2"/>
<path d="M517.0,152.0 C518.2,151.5 521.8,150.3 524.0,149.0 C526.2,147.7 529.0,144.8 530.0,144.0" stroke="#fff6a6" stroke-width="6"/>
<path d="M515.0,154.0 C514.3,155.0 512.3,157.8 511.0,160.0 C509.7,162.2 508.1,165.0 507.0,167.0 C505.9,169.0 504.9,171.2 504.5,172.0" stroke="#fff6a6" stroke-width="4"/>
<path d="M522.0,155.0 C522.5,156.7 524.4,160.8 525.0,165.0 C525.6,169.2 525.4,175.0 525.5,180.0 C525.6,185.0 525.5,190.8 525.5,195.0 C525.5,199.2 525.5,200.5 525.5,205.0 C525.5,209.5 525.5,219.2 525.5,222.0" stroke="#fff6a6" stroke-width="5.5"/>
<path d="M527.0,155.0 C528.0,155.8 531.2,158.5 533.0,160.0 C534.8,161.5 536.7,162.8 538.0,164.0 C539.3,165.2 540.5,166.5 541.0,167.0" stroke="#fff6a6" stroke-width="4"/>
<path d="M505.0,214.0 C506.7,213.7 511.7,212.7 515.0,212.0 C518.3,211.3 521.7,210.0 525.0,210.0 C528.3,210.0 531.7,211.2 535.0,212.0 C538.3,212.8 543.3,214.5 545.0,215.0" stroke="#fff6a6" stroke-width="5"/>
</g>
<path d="M493.4,28.4 V2.3 H518.4 V26 H513.5 V7.3 H499.3 V28.4 L500.3,35.4 L501.5,45.6 L496.8,47.8 L491.3,47.8 L488,48.3 L480.3,48.9 L477,46.7 L468.7,47.8 L470.1,42.1 L476.2,28.4 Z" fill="#fff6a6" stroke="none" stroke-width="1" />
<path d="M468.7,47.8 Q473,46.5 477,46.7 Q480,47.5 480.3,48.9" fill="none" stroke="#ff8c1a" stroke-width="1.2" />
<path d="M487,50 Q487.5,48.2 491.3,47.8 H496.8 Q499,49 500.1,52.2" fill="none" stroke="#ff8c1a" stroke-width="1.2" />
<path d="M543.0,76.0 C544.6,76.2 550.2,76.5 552.7,77.5 C555.2,78.5 556.5,79.8 558.2,82.1 C559.9,84.4 561.5,88.1 562.8,91.5 C564.1,94.9 565.2,98.5 566.0,102.4 C566.8,106.3 567.4,110.8 567.5,114.9 C567.6,119.1 567.4,123.7 566.7,127.3 C566.1,130.9 565.2,134.1 563.6,136.7 C562.0,139.3 560.0,141.1 557.4,142.9 C554.8,144.7 551.1,146.4 548.0,147.6 C544.9,148.8 541.2,149.8 538.7,149.9 C536.2,150.0 534.0,148.3 533.0,148.0 L528.6,140.5 C528.6,138.3 527.4,129.9 528.6,127.5 C529.8,125.1 533.3,126.7 536.0,126.0 C538.7,125.3 542.5,124.8 545.0,123.5 C547.5,122.2 549.7,121.1 551.0,118.5 C552.3,115.9 552.9,111.9 553.0,108.0 C553.1,104.1 552.3,98.8 551.5,95.0 C550.7,91.2 549.2,87.8 548.0,85.0 C546.8,82.2 544.7,79.2 544.0,78.0 Z" fill="url(#sd)" stroke="#111" stroke-width="1.1" />
<path d="M546.5,79.0 C547.2,80.2 549.5,82.8 551.0,86.0 C552.5,89.2 554.4,94.0 555.5,98.0 C556.6,102.0 557.2,106.8 557.5,110.0 C557.8,113.2 557.5,115.8 557.5,117.0" fill="none" stroke="#111" stroke-width="5" />
<path d="M546.5,79.0 C547.2,80.2 549.5,82.8 551.0,86.0 C552.5,89.2 554.4,94.0 555.5,98.0 C556.6,102.0 557.2,106.8 557.5,110.0 C557.8,113.2 557.5,115.8 557.5,117.0" fill="none" stroke="#ffffd2" stroke-width="3" />
<path d="M546.0,119.0 C548.2,117.4 552.7,117.2 555.0,117.5 C557.3,117.8 559.0,118.9 560.0,121.0 C561.0,123.1 561.5,127.3 561.0,130.0 C560.5,132.7 559.2,135.2 557.0,137.0 C554.8,138.8 550.4,140.5 548.0,140.5 C545.6,140.5 543.6,139.2 542.5,137.0 C541.4,134.8 540.9,130.0 541.5,127.0 C542.1,124.0 543.8,120.6 546.0,119.0 Z" fill="#ffffd2" stroke="#111" stroke-width="1" />
<path d="M493.4,28.4 V2.3 H518.4 V26 H513.5 V7.3 H499.3 V28.4 L499.3,28.4 C499.5,29.6 499.9,32.5 500.3,35.4 C500.7,38.3 500.6,42.6 501.5,45.6 C502.4,48.6 503.0,50.5 505.4,53.3 C507.8,56.1 511.8,59.9 515.6,62.3 C519.5,64.7 524.6,65.9 528.5,67.4 C532.4,68.9 536.2,70.0 538.7,71.3 C541.2,72.6 541.7,74.2 543.8,75.1 C545.9,75.9 548.9,74.9 551.5,76.4 C554.1,77.9 557.1,80.7 559.2,84.1 C561.4,87.5 563.1,92.2 564.4,96.9 C565.7,101.6 566.5,107.6 566.9,112.3 C567.3,117.0 567.5,121.5 566.9,125.1 C566.2,128.7 565.1,131.5 563.0,134.1 C560.9,136.7 557.7,138.8 554.1,140.5 C550.5,142.2 544.9,143.6 541.3,144.4 C537.7,145.2 533.8,145.4 532.3,145.6 L532.3,145.6 C533.3,145.9 536.1,146.5 538.1,147.6 C540.1,148.7 542.4,150.4 544.0,152.4 C545.6,154.4 546.2,156.3 547.6,159.5 C549.0,162.7 550.8,167.8 552.4,171.4 C554.0,175.0 556.1,177.8 557.1,181.0 C558.1,184.2 558.1,186.7 558.3,190.5 C558.5,194.3 558.7,200.4 558.3,204.0 C557.9,207.6 557.2,209.9 555.9,211.9 C554.6,213.9 553.3,214.8 550.4,216.0 C547.5,217.2 542.1,218.5 538.5,219.2 C534.9,219.9 530.2,219.9 528.6,220.1 L528.6,228.6 H522.2 L522.2,220.1 C521.6,219.8 520.0,219.4 518.3,218.3 C516.6,217.2 514.5,214.6 511.9,213.5 C509.2,212.4 506.4,213.3 502.4,211.9 C498.4,210.5 492.5,208.0 488.1,204.8 C483.7,201.6 479.4,197.3 476.2,192.9 C473.0,188.5 471.0,184.2 469.0,178.6 C467.0,173.0 465.7,166.7 464.3,159.5 C462.9,152.3 461.5,141.4 460.7,135.7 C459.9,129.9 459.9,129.2 459.5,125.0 C459.1,120.8 458.4,115.3 458.3,110.6 C458.2,105.8 458.6,101.5 459.1,96.5 C459.6,91.5 460.8,84.2 461.1,80.4 C461.4,76.6 461.5,74.2 461.1,73.5 C460.8,72.8 459.8,76.1 459.0,76.4 C458.2,76.7 457.0,76.2 456.5,75.4 C456.0,74.6 455.6,72.5 456.0,71.3 C456.4,70.1 458.1,69.8 459.1,68.3 C460.1,66.8 461.3,64.3 462.1,62.3 C462.9,60.3 462.9,58.2 464.1,56.2 C465.3,54.2 468.1,52.6 469.1,50.2 C470.1,47.9 468.9,45.7 470.1,42.1 C471.3,38.5 475.2,30.7 476.2,28.4 Z" fill="none" stroke="#111" stroke-width="1.4" />
<circle cx="507.7" cy="70.9" r="3.6" fill="#aaaaaa" stroke="#444" stroke-width="1"/>
<circle cx="500.3" cy="117.1" r="3.6" fill="#aaaaaa" stroke="#444" stroke-width="1"/>
<circle cx="482.5" cy="141.9" r="3.6" fill="#aaaaaa" stroke="#444" stroke-width="1"/>
<circle cx="546.3" cy="193.2" r="3.6" fill="#aaaaaa" stroke="#444" stroke-width="1"/>
<use href="#it" x="456" y="71"/>
<use href="#it" x="483" y="132"/>
<use href="#it" x="528" y="136"/>
<use href="#it" x="547" y="123"/>
<rect x="514.5" y="150.2" width="9" height="4.5" fill="#b8b8b8" stroke="#111" stroke-width="1.1" />
<use href="#it" x="517" y="150"/>
<use href="#en" x="469" y="80"/>
<use href="#en" x="476" y="80"/>
<use href="#en" x="465" y="100"/>
<use href="#en" x="480" y="104"/>
<use href="#en" x="488" y="104"/>
<use href="#en" x="483" y="113"/>
<use href="#en" x="491" y="116"/>
<use href="#en" x="476" y="137"/>
<use href="#en" x="493" y="176"/>
<use href="#en" x="505" y="179"/>
<use href="#en" x="536" y="173"/>
<use href="#en" x="543" y="170"/>
<use href="#en" x="553" y="191"/>
<use href="#en" x="534" y="119"/>
<use href="#en" x="529" y="123"/>
<use href="#en" x="552" y="120"/>
<use href="#en" x="557" y="121"/>
<use href="#en" x="549" y="132"/>
<use href="#en" x="555" y="132"/>
<line x1="523.6" y1="75.2" x2="544" y2="75.2" stroke="#5a8af0" stroke-width="1.2" stroke-dasharray="1.5,1.5"/>
<path d="M523.6,75.2 L528.6,72.7 L528.6,77.7 Z" fill="#3d6ef5"/>
<path d="M544.0,75.2 L539.0,77.7 L539.0,72.7 Z" fill="#3d6ef5"/>
<line x1="508.2" y1="94.4" x2="503.3" y2="107.6" stroke="#5a8af0" stroke-width="1.2" stroke-dasharray="1.5,1.5"/>
<path d="M508.2,94.4 L508.8,100.0 L504.1,98.2 Z" fill="#3d6ef5"/>
<path d="M503.3,107.6 L502.7,102.0 L507.4,103.8 Z" fill="#3d6ef5"/>
<line x1="501.7" y1="129.1" x2="492.5" y2="142" stroke="#5a8af0" stroke-width="1.2" stroke-dasharray="1.5,1.5"/>
<path d="M501.7,129.1 L500.8,134.6 L496.8,131.7 Z" fill="#3d6ef5"/>
<path d="M492.5,142.0 L493.4,136.5 L497.4,139.4 Z" fill="#3d6ef5"/>
<line x1="516.5" y1="141.6" x2="531.3" y2="143.5" stroke="#5a8af0" stroke-width="1.2" stroke-dasharray="1.5,1.5"/>
<path d="M516.5,141.6 L521.8,139.8 L521.1,144.7 Z" fill="#3d6ef5"/>
<path d="M531.3,143.5 L526.0,145.3 L526.7,140.4 Z" fill="#3d6ef5"/>
<rect x="615.2" y="30.3" width="6.5" height="49" fill="#ffffcc" stroke="#111" stroke-width="1.2" />
<line x1="615.8" y1="33" x2="621.1" y2="33" stroke="#a8a8a8" stroke-width="0.8" />
<line x1="615.8" y1="37.3" x2="621.1" y2="37.3" stroke="#a8a8a8" stroke-width="0.8" />
<line x1="615.8" y1="41.599999999999994" x2="621.1" y2="41.599999999999994" stroke="#a8a8a8" stroke-width="0.8" />
<line x1="615.8" y1="45.89999999999999" x2="621.1" y2="45.89999999999999" stroke="#a8a8a8" stroke-width="0.8" />
<line x1="615.8" y1="50.19999999999999" x2="621.1" y2="50.19999999999999" stroke="#a8a8a8" stroke-width="0.8" />
<line x1="615.8" y1="54.499999999999986" x2="621.1" y2="54.499999999999986" stroke="#a8a8a8" stroke-width="0.8" />
<line x1="615.8" y1="58.79999999999998" x2="621.1" y2="58.79999999999998" stroke="#a8a8a8" stroke-width="0.8" />
<line x1="615.8" y1="63.09999999999998" x2="621.1" y2="63.09999999999998" stroke="#a8a8a8" stroke-width="0.8" />
<line x1="615.8" y1="67.39999999999998" x2="621.1" y2="67.39999999999998" stroke="#a8a8a8" stroke-width="0.8" />
<line x1="615.8" y1="71.69999999999997" x2="621.1" y2="71.69999999999997" stroke="#a8a8a8" stroke-width="0.8" />
<line x1="615.8" y1="75.99999999999997" x2="621.1" y2="75.99999999999997" stroke="#a8a8a8" stroke-width="0.8" />
<rect x="596.5" y="79.6" width="45.3" height="138.2" fill="#ffffcc" stroke="#111" stroke-width="1.3" />
<rect x="613.7" y="217.8" width="9.8" height="50.5" fill="#ffffcc" stroke="#111" stroke-width="1.2" />
<line x1="614.2" y1="267.5" x2="623" y2="267.5" stroke="#ff0000" stroke-width="2" />
<line x1="615.7" y1="80.3" x2="621.2" y2="80.3" stroke="#ff0000" stroke-width="2" />
<rect x="631.2" y="123" width="10.3" height="76" fill="url(#sd)" stroke="#111" stroke-width="0.9" />
<rect x="626.5" y="150" width="4.2" height="28" fill="#fffff0" stroke="#111" stroke-width="0.9" />
<line x1="627" y1="199" x2="641.5" y2="199" stroke="#111" stroke-width="1" />
<line x1="635.3" y1="199" x2="635.3" y2="207" stroke="#ff6600" stroke-width="1.3" />
<use href="#pl" x="607" y="106"/>
<use href="#pl" x="626" y="106"/>
<use href="#pl" x="607" y="123"/>
<use href="#pl" x="626" y="123"/>
<use href="#pl" x="607" y="140"/>
<use href="#pl" x="626" y="140"/>
<use href="#pl" x="607" y="157"/>
<use href="#pl" x="626" y="157"/>
<use href="#pl" x="607" y="174"/>
<use href="#pl" x="626" y="174"/>
<use href="#pl" x="607" y="191"/>
<use href="#pl" x="626" y="191"/>
<use href="#pl" x="611" y="77"/>
<use href="#pl" x="621" y="77"/>
<use href="#pl" x="607" y="215"/>
<use href="#pl" x="626" y="215"/>
<rect x="613.8" y="90" width="10.5" height="5" fill="#b8b8b8" stroke="#111" stroke-width="1" />
<use href="#it" x="617" y="90"/>
<use href="#it" x="626" y="152"/>
<use href="#it" x="636" y="194"/>
<use href="#en" x="618" y="190"/>
<rect x="1.3" y="283.3" width="49.2" height="91.3" fill="#ffffcc" stroke="#111" stroke-width="1.3" />
<rect x="20.3" y="249.5" width="11.5" height="34.6" fill="#ffffcc" stroke="none" stroke-width="1" />
<rect x="21" y="250.2" width="10.2" height="5.5" fill="url(#sd)" stroke="none" stroke-width="1" />
<rect x="25.5" y="255.5" width="5.7" height="17.5" fill="url(#sd)" stroke="none" stroke-width="1" />
<line x1="25.5" y1="255.7" x2="25.5" y2="273" stroke="#111" stroke-width="0.9" />
<line x1="25.5" y1="273" x2="31.2" y2="273" stroke="#111" stroke-width="0.9" />
<path d="M20.3,283.3 V249.5 H31.8 V283.3" fill="none" stroke="#111" stroke-width="1.3" />
<line x1="20.8" y1="283.3" x2="31.3" y2="283.3" stroke="#ffffcc" stroke-width="1.6" />
<use href="#pl" x="7" y="294"/>
<use href="#pl" x="41" y="294"/>
<use href="#pl" x="7" y="306"/>
<use href="#pl" x="41" y="306"/>
<use href="#pl" x="7" y="318"/>
<use href="#pl" x="41" y="318"/>
<use href="#pl" x="7" y="329"/>
<use href="#pl" x="41" y="329"/>
<use href="#pl" x="7" y="341"/>
<use href="#pl" x="41" y="341"/>
<use href="#pl" x="7" y="354"/>
<use href="#pl" x="41" y="354"/>
<circle cx="25.5" cy="301.5" r="3.6" fill="#ffa64d" opacity="0.9"/>
<use href="#it" x="24" y="300"/>
<use href="#it" x="35" y="330"/>
<use href="#it" x="24" y="364"/>
<use href="#en" x="24" y="289"/>
<rect x="63.5" y="241.6" width="11.2" height="36.6" fill="#fff27a" stroke="#111" stroke-width="1.3" />
<rect x="64.1" y="250" width="10" height="5.5" fill="#ffffcc" stroke="none" stroke-width="1" />
<rect x="64.1" y="255" width="4.5" height="9.5" fill="url(#sd)" stroke="none" stroke-width="1" />
<line x1="68.6" y1="248" x2="68.6" y2="271.5" stroke="#ff6600" stroke-width="1.3" />
<use href="#it" x="64" y="274"/>
<path d="M93.2,272.7 C93.2,274.6 93.1,279.3 93.0,284.0 C92.9,288.7 93.5,297.8 92.5,300.7 C91.5,303.6 88.3,300.4 87.0,301.6 C85.7,302.8 84.7,305.9 84.5,308.0 C84.3,310.1 84.2,313.2 86.0,314.4 C87.8,315.6 91.8,314.5 95.0,315.4 C98.2,316.3 102.2,317.6 105.0,320.0 C107.8,322.4 110.3,326.7 112.0,330.0 C113.7,333.3 114.7,337.7 115.0,340.0 C115.3,342.3 114.8,342.4 114.0,343.7 C113.2,345.0 111.4,345.6 110.1,348.0 C108.8,350.4 106.8,355.1 106.1,358.1 C105.4,361.1 105.6,364.0 106.1,366.2 C106.6,368.4 107.6,370.0 109.1,371.2 C110.6,372.4 112.4,372.7 115.1,373.2 C117.8,373.7 122.7,373.0 125.2,374.2 C127.7,375.4 128.5,378.3 130.3,380.3 C132.2,382.3 135.1,383.0 136.3,386.3 C137.5,389.6 137.3,396.0 137.3,400.4 C137.3,404.8 136.1,409.1 136.3,412.5 C136.5,415.9 137.0,417.9 138.3,420.6 C139.7,423.3 142.7,425.9 144.4,428.6 C146.1,431.3 146.9,434.5 148.4,436.7 C149.9,438.9 151.6,440.9 153.4,441.7 C155.2,442.5 157.7,442.2 159.5,441.7 C161.3,441.2 161.8,439.2 164.5,438.7 C167.2,438.2 171.7,438.5 175.6,438.7 C179.5,438.9 184.2,439.2 187.7,439.7 C191.2,440.2 194.7,441.5 196.7,441.7 C198.7,441.9 199.5,441.5 199.8,440.7 C200.1,439.9 199.4,438.2 198.7,436.7 C198.0,435.2 196.9,432.8 195.7,431.7 C194.5,430.6 192.4,430.4 191.7,430.2 V389.4 H161.5 L161.5,430.2 C159.6,430.2 152.3,431.5 149.8,430.2 C147.3,428.9 147.5,425.6 146.4,422.6 C145.3,419.7 143.8,416.2 143.3,412.5 C142.8,408.8 143.5,404.8 143.3,400.4 C143.1,396.0 143.1,389.6 142.3,386.3 C141.5,383.0 140.0,382.5 138.3,380.3 C136.6,378.1 134.3,375.9 132.3,373.2 C130.3,370.5 127.7,367.7 126.2,364.2 C124.7,360.7 123.9,354.6 123.2,352.1 C122.5,349.6 121.9,351.4 122.0,349.0 C122.1,346.6 123.7,341.9 124.0,338.0 C124.3,334.1 124.7,328.7 124.0,325.4 C123.3,322.1 122.0,320.1 120.0,318.0 C118.0,315.9 115.2,314.4 112.0,312.6 C108.8,310.8 103.2,309.4 101.0,307.0 C98.8,304.6 99.6,301.1 99.0,298.0 C98.4,294.9 97.7,292.4 97.4,288.2 C97.1,284.0 97.4,275.3 97.4,272.7 Z" fill="#ffffcc" stroke="none" stroke-width="1" />
<path d="M93.2,272.7 C93.2,274.6 93.1,279.3 93.0,284.0 C92.9,288.7 93.5,297.8 92.5,300.7 C91.5,303.6 88.3,300.4 87.0,301.6 C85.7,302.8 84.7,305.9 84.5,308.0 C84.3,310.1 84.2,313.2 86.0,314.4 C87.8,315.6 91.8,314.5 95.0,315.4 C98.2,316.3 102.2,317.6 105.0,320.0 C107.8,322.4 110.3,326.7 112.0,330.0 C113.7,333.3 114.5,338.3 115.0,340.0" fill="none" stroke="#ff9a33" stroke-width="1.2" />
<path d="M115.0,340.0 C114.8,340.6 114.8,342.4 114.0,343.7 C113.2,345.0 111.4,345.6 110.1,348.0 C108.8,350.4 106.8,355.1 106.1,358.1 C105.4,361.1 105.6,364.0 106.1,366.2 C106.6,368.4 107.6,370.0 109.1,371.2 C110.6,372.4 112.4,372.7 115.1,373.2 C117.8,373.7 122.7,373.0 125.2,374.2 C127.7,375.4 128.5,378.3 130.3,380.3 C132.2,382.3 135.1,383.0 136.3,386.3 C137.5,389.6 137.3,396.0 137.3,400.4 C137.3,404.8 136.1,409.1 136.3,412.5 C136.5,415.9 137.0,417.9 138.3,420.6 C139.7,423.3 142.7,425.9 144.4,428.6 C146.1,431.3 146.9,434.5 148.4,436.7 C149.9,438.9 151.6,440.9 153.4,441.7 C155.2,442.5 157.7,442.2 159.5,441.7 C161.3,441.2 161.8,439.2 164.5,438.7 C167.2,438.2 171.7,438.5 175.6,438.7 C179.5,438.9 184.2,439.2 187.7,439.7 C191.2,440.2 194.7,441.5 196.7,441.7 C198.7,441.9 199.5,441.5 199.8,440.7 C200.1,439.9 199.4,438.2 198.7,436.7 C198.0,435.2 196.9,432.8 195.7,431.7 C194.5,430.6 192.4,430.4 191.7,430.2" fill="none" stroke="#ff9a33" stroke-width="1.2" />
<path d="M97.4,272.7 C97.4,275.3 97.1,284.0 97.4,288.2 C97.7,292.4 98.4,294.9 99.0,298.0 C99.6,301.1 98.8,304.6 101.0,307.0 C103.2,309.4 108.8,310.8 112.0,312.6 C115.2,314.4 118.0,315.9 120.0,318.0 C122.0,320.1 123.3,322.1 124.0,325.4 C124.7,328.7 124.3,334.1 124.0,338.0 C123.7,341.9 122.1,346.6 122.0,349.0 C121.9,351.4 122.5,349.6 123.2,352.1 C123.9,354.6 124.7,360.7 126.2,364.2 C127.7,367.7 130.3,370.5 132.3,373.2 C134.3,375.9 136.6,378.1 138.3,380.3 C140.0,382.5 141.5,383.0 142.3,386.3 C143.1,389.6 143.1,396.0 143.3,400.4 C143.5,404.8 142.8,408.8 143.3,412.5 C143.8,416.2 145.3,419.7 146.4,422.6 C147.5,425.6 149.2,428.9 149.8,430.2 L161.5,430.2" fill="none" stroke="#111" stroke-width="1.3" />
<path d="M110.1,348.0 C109.4,349.7 106.8,355.1 106.1,358.1 C105.4,361.1 105.6,364.0 106.1,366.2 C106.6,368.4 108.6,370.4 109.1,371.2" fill="none" stroke="#111" stroke-width="1.2" />
<path d="M93.2,272.7 H97.4" fill="none" stroke="#111" stroke-width="1.2" />
<rect x="97.4" y="283.3" width="26.2" height="4.9" fill="#ffffcc" stroke="none" stroke-width="1" />
<line x1="97.4" y1="283.3" x2="123.6" y2="283.3" stroke="#111" stroke-width="1.3" />
<line x1="97.4" y1="288.2" x2="123.6" y2="288.2" stroke="#111" stroke-width="1.3" />
<rect x="96.5" y="283.5" width="2.5" height="5" fill="#ff0000"/>
<use href="#it" x="86" y="305"/>
<use href="#en" x="92" y="301"/>
<use href="#en" x="96" y="301"/>
<use href="#en" x="82" y="285"/>
<use href="#en" x="84" y="338"/>
<use href="#en" x="117" y="356"/>
<use href="#en" x="108" y="367"/>
<use href="#en" x="125" y="369"/>
<use href="#en" x="103" y="393"/>
<use href="#en" x="108" y="421"/>
<use href="#en" x="125" y="434"/>
<path d="M136.5,285.5 H152.2 V283.2 H171.6 V242.2 H182.4 V283.2 H201.3 V285.5 H216.5 V338.6 H205.6 V335.3 H201.3 V389.4 H191.7 V430.2 H161.5 V389.4 H152.2 V335.3 H147.9 V338.6 H136.5 Z" fill="#ffffcc" stroke="none" stroke-width="1" />
<rect x="137" y="286" width="10" height="24" fill="#fff27a" stroke="none" stroke-width="1" />
<rect x="206.5" y="286" width="9.5" height="24" fill="#fff27a" stroke="none" stroke-width="1" />
<rect x="142.4" y="310" width="4.8" height="18.5" fill="url(#sd)" stroke="none" stroke-width="1" />
<rect x="206.1" y="310" width="5.3" height="18.5" fill="url(#sd)" stroke="none" stroke-width="1" />
<line x1="142.4" y1="292" x2="142.4" y2="310" stroke="#ff6600" stroke-width="1.3" />
<line x1="211.4" y1="292" x2="211.4" y2="310" stroke="#ff6600" stroke-width="1.3" />
<line x1="142.4" y1="310" x2="142.4" y2="328.6" stroke="#111" stroke-width="0.9" />
<line x1="211.4" y1="310" x2="211.4" y2="328.6" stroke="#111" stroke-width="0.9" />
<rect x="172.2" y="243" width="10" height="40" fill="#fff27a" stroke="none" stroke-width="1" />
<rect x="172.2" y="262" width="5" height="10" fill="url(#sd)" stroke="none" stroke-width="1" />
<path d="M177.3,249 V272 H172.2" fill="none" stroke="#ff6600" stroke-width="1.3" />
<rect x="172.2" y="283" width="10.2" height="2.4" fill="#800080" stroke="none" stroke-width="1" />
<rect x="175" y="276.5" width="4.5" height="4.5" fill="#d9a0e6" stroke="#800080" stroke-width="1" />
<rect x="172.2" y="309" width="10.2" height="31" fill="#ffffa8" stroke="none" stroke-width="1" />
<line x1="171.6" y1="309" x2="171.6" y2="340.3" stroke="#ff6600" stroke-width="1.3" />
<line x1="182.7" y1="309" x2="182.7" y2="340.3" stroke="#ff6600" stroke-width="1.3" />
<rect x="171.6" y="300.4" width="11.1" height="7.9" fill="url(#sd)" stroke="#ff6600" stroke-width="1.4" />
<line x1="153" y1="310.1" x2="201" y2="310.1" stroke="#111" stroke-width="1.1" stroke-dasharray="6,4"/>
<path d="M147.2,285.5 H136.5 V338.6 H147.9 V335.3 H152.2 V389.4 M147.2,285.5 V328.8 H152.2 M152.2,335.3 V283.2 H171.6 V242.2 H182.4 V283.2 H201.3 V335.3" fill="none" stroke="#111" stroke-width="1.3" />
<path d="M206.1,285.5 H216.5 V338.6 H205.6 V335.3 H201.3 V389.4 M206.1,285.5 V328.8 H201.3" fill="none" stroke="#111" stroke-width="1.3" />
<path d="M161.5,389.4 V430.2 M191.7,389.4 V430.2 M152.2,389.4 H201.3" fill="none" stroke="#111" stroke-width="1.3" />
<line x1="172" y1="389.4" x2="182" y2="389.4" stroke="#3a6ef0" stroke-width="2.2" />
<use href="#pl" x="150" y="322"/>
<use href="#pl" x="199" y="322"/>
<use href="#pl" x="150" y="338"/>
<use href="#pl" x="199" y="338"/>
<use href="#pl" x="150" y="354"/>
<use href="#pl" x="199" y="354"/>
<use href="#pl" x="150" y="371"/>
<use href="#pl" x="199" y="371"/>
<use href="#pl" x="150" y="387"/>
<use href="#pl" x="199" y="387"/>
<use href="#pl" x="167" y="318"/>
<use href="#pl" x="182" y="318"/>
<use href="#pl" x="167" y="333"/>
<use href="#pl" x="182" y="333"/>
<use href="#pl" x="167" y="348"/>
<use href="#pl" x="182" y="348"/>
<use href="#pl" x="167" y="364"/>
<use href="#pl" x="182" y="364"/>
<use href="#pl" x="167" y="387"/>
<use href="#pl" x="182" y="387"/>
<use href="#it" x="143" y="286"/>
<use href="#it" x="183" y="324"/>
<use href="#it" x="157" y="379"/>
<use href="#it" x="187" y="390"/>
<use href="#it" x="162" y="433"/>
<use href="#en" x="210" y="288"/>
<rect x="237.3" y="283.3" width="49.2" height="26.9" fill="#fff38a" stroke="none" stroke-width="1" />
<rect x="237.3" y="310.2" width="49.2" height="79.1" fill="url(#st)" stroke="none" stroke-width="1" />
<rect x="248.3" y="389.3" width="29.6" height="41" fill="url(#st)" stroke="none" stroke-width="1" />
<rect x="256.1" y="310.2" width="11.4" height="30.5" fill="#ffffb0" stroke="none" stroke-width="1" />
<line x1="256.1" y1="309.6" x2="256.1" y2="340.7" stroke="#ff6600" stroke-width="1.3" />
<line x1="267.5" y1="309.6" x2="267.5" y2="340.7" stroke="#ff6600" stroke-width="1.3" />
<rect x="237.3" y="283.3" width="49.2" height="106" fill="none" stroke="#111" stroke-width="1.3" />
<line x1="237.3" y1="310.2" x2="256.1" y2="310.2" stroke="#111" stroke-width="1.2" />
<line x1="267.5" y1="310.2" x2="286.5" y2="310.2" stroke="#111" stroke-width="1.2" />
<line x1="248.3" y1="389.3" x2="248.3" y2="430.3" stroke="#111" stroke-width="1.3" />
<line x1="277.9" y1="389.3" x2="277.9" y2="430.3" stroke="#111" stroke-width="1.3" />
<rect x="255.4" y="298.4" width="12.1" height="4.1" fill="#fff27a" stroke="#ff6600" stroke-width="1.2" />
<rect x="259.6" y="292.4" width="4" height="4" fill="#9fd0ff" stroke="#3a7ae0" stroke-width="1" />
<line x1="258" y1="389.3" x2="266" y2="389.3" stroke="#3a6ef0" stroke-width="2.2" />
<use href="#pl" x="235" y="322"/>
<use href="#pl" x="284" y="322"/>
<use href="#pl" x="235" y="338"/>
<use href="#pl" x="284" y="338"/>
<use href="#pl" x="235" y="352"/>
<use href="#pl" x="284" y="352"/>
<use href="#pl" x="235" y="368"/>
<use href="#pl" x="284" y="368"/>
<use href="#pl" x="235" y="387"/>
<use href="#pl" x="284" y="387"/>
<use href="#pl" x="252" y="318"/>
<use href="#pl" x="267" y="318"/>
<use href="#pl" x="252" y="333"/>
<use href="#pl" x="267" y="333"/>
<use href="#pl" x="252" y="348"/>
<use href="#pl" x="267" y="348"/>
<use href="#pl" x="252" y="364"/>
<use href="#pl" x="267" y="364"/>
<use href="#pl" x="252" y="387"/>
<use href="#pl" x="267" y="387"/>
<use href="#it" x="253" y="284"/>
<use href="#en" x="259" y="306"/>
<use href="#en" x="258" y="321"/>
<use href="#en" x="263" y="321"/>
<path d="M347.6,336.4 H429 V378 H449.2 V499.5 H436.7 L414,398.3 L392,403 L392.0,403.0 C391.7,402.4 391.1,400.7 390.2,399.3 C389.3,397.9 388.7,396.2 386.6,394.8 C384.5,393.4 380.5,393.2 377.5,391.1 C374.5,389.0 370.5,385.1 368.4,382.1 C366.3,379.1 366.3,376.3 364.8,373.0 C363.3,369.7 361.4,365.4 359.4,362.1 C357.4,358.8 355.0,355.2 353.0,353.1 C351.0,351.0 350.6,350.2 347.6,349.4 C344.6,348.5 337.5,348.6 334.9,348.0 C332.3,347.4 332.3,346.8 332.2,345.8 C332.1,344.8 332.0,343.4 334.0,342.2 C336.0,341.0 341.7,339.6 344.0,338.6 C346.3,337.6 347.0,336.8 347.6,336.4 Z" fill="url(#st)" stroke="none" stroke-width="1" />
<path d="M347.6,330.4 C346.9,329.9 346.0,328.6 343.1,327.7 C340.2,326.8 334.5,325.9 330.4,325.0 C326.3,324.1 321.2,322.2 318.6,322.6 C316.0,323.1 316.2,325.5 315.0,327.7 C313.8,329.9 311.3,332.9 311.3,335.8 C311.3,338.7 313.0,342.2 315.0,344.9 C317.0,347.6 318.7,350.7 323.1,352.2 C327.5,353.7 336.8,352.9 341.3,354.0 C345.8,355.1 347.6,356.2 350.3,358.5 C353.0,360.8 355.5,364.6 357.6,367.6 C359.7,370.6 361.4,373.9 363.0,376.6 C364.6,379.3 365.4,381.5 367.5,383.9 C369.6,386.3 373.4,389.1 375.7,391.1 C377.9,393.1 379.7,394.7 381.0,396.0 C382.3,397.3 382.5,397.3 383.5,399.0 C384.5,400.7 386.1,403.2 387.0,406.0 C387.9,408.8 388.3,412.0 389.0,416.0 C389.7,420.0 390.3,425.7 391.0,430.0 C391.7,434.3 392.0,438.6 393.0,442.0 C394.0,445.4 395.3,448.3 397.0,450.4 C398.7,452.5 401.0,453.6 403.0,454.5 C405.0,455.4 407.6,455.8 409.2,455.5 C410.8,455.2 411.8,453.0 412.3,452.5 L399,442 L397,430 L394,414 L392.7,402.5 L392.0,403.0 C391.7,402.4 391.1,400.7 390.2,399.3 C389.3,397.9 388.7,396.2 386.6,394.8 C384.5,393.4 380.5,393.2 377.5,391.1 C374.5,389.0 370.5,385.1 368.4,382.1 C366.3,379.1 366.3,376.3 364.8,373.0 C363.3,369.7 361.4,365.4 359.4,362.1 C357.4,358.8 355.0,355.2 353.0,353.1 C351.0,351.0 350.6,350.2 347.6,349.4 C344.6,348.5 337.5,348.6 334.9,348.0 C332.3,347.4 332.3,346.8 332.2,345.8 C332.1,344.8 332.0,343.4 334.0,342.2 C336.0,341.0 341.7,339.6 344.0,338.6 C346.3,337.6 347.0,336.8 347.6,336.4 Z" fill="#ffffcc" stroke="none" stroke-width="1" />
<path d="M330.4,325.0 C328.4,324.6 321.2,322.2 318.6,322.6 C316.0,323.1 316.2,325.5 315.0,327.7 C313.8,329.9 311.3,332.9 311.3,335.8 C311.3,338.7 313.0,342.2 315.0,344.9 C317.0,347.6 318.7,350.7 323.1,352.2 C327.5,353.7 336.8,352.9 341.3,354.0 C345.8,355.1 347.6,356.2 350.3,358.5 C353.0,360.8 355.5,364.6 357.6,367.6 C359.7,370.6 361.4,373.9 363.0,376.6 C364.6,379.3 365.4,381.5 367.5,383.9 C369.6,386.3 373.4,389.1 375.7,391.1 C377.9,393.1 379.7,394.7 381.0,396.0 C382.3,397.3 382.5,397.3 383.5,399.0 C384.5,400.7 386.1,403.2 387.0,406.0 C387.9,408.8 388.3,412.0 389.0,416.0 C389.7,420.0 390.3,425.7 391.0,430.0 C391.7,434.3 392.0,438.6 393.0,442.0 C394.0,445.4 395.3,448.3 397.0,450.4 C398.7,452.5 401.0,453.6 403.0,454.5 C405.0,455.4 407.6,455.8 409.2,455.5 C410.8,455.2 411.8,453.0 412.3,452.5" fill="none" stroke="#ff9a33" stroke-width="1.2" />
<path d="M347.6,330.4 C346.9,329.9 346.0,328.6 343.1,327.7 C340.2,326.8 334.5,325.9 330.4,325.0 C326.3,324.1 320.6,323.0 318.6,322.6" fill="none" stroke="#111" stroke-width="1.2" />
<path d="M347.6,336.4 C347.0,336.8 346.3,337.6 344.0,338.6 C341.7,339.6 336.0,341.0 334.0,342.2 C332.0,343.4 332.1,344.8 332.2,345.8 C332.3,346.8 332.3,347.4 334.9,348.0 C337.5,348.6 344.6,348.5 347.6,349.4 C350.6,350.2 351.0,351.0 353.0,353.1 C355.0,355.2 357.4,358.8 359.4,362.1 C361.4,365.4 363.3,369.7 364.8,373.0 C366.3,376.3 366.3,379.1 368.4,382.1 C370.5,385.1 374.5,389.0 377.5,391.1 C380.5,393.2 384.5,393.4 386.6,394.8 C388.7,396.2 389.3,397.9 390.2,399.3 C391.1,400.7 391.7,402.4 392.0,403.0" fill="none" stroke="#111" stroke-width="1.3" />
<path d="M392.7,402.5 L413.3,398.5 L436.7,499.5 L431.4,500 Q428.5,499 427.4,496.8 L423.3,486.7 L420.3,474.6 L418.3,462.5 L415.3,456.5 L412.3,452.5 Q409,452.5 408,452 L403,449 L399,442 L397,430 L394,414 Z" fill="#ffbe14" stroke="#ff9900" stroke-width="0.9" />
<path d="M395.5,405 L403,404 Q406.5,410 406,418 L405.5,430 Q406.5,440 405,449 L401,448 Q398.5,440 398,430 L397,418 Z" fill="#ffdc6e" stroke="none" stroke-width="1" />
<line x1="414" y1="398.3" x2="436.7" y2="499.5" stroke="#111" stroke-width="1.3" />
<path d="M391.9,403.1 L414,398.3" fill="none" stroke="#111" stroke-width="1.2" />
<rect x="419.7" y="445.3" width="7" height="5" fill="#fff" stroke="#111" stroke-width="1.2" />
<rect x="423.5" y="462.5" width="7" height="5" fill="#fff" stroke="#111" stroke-width="1.2" />
<rect x="427.5" y="478.5" width="7" height="5" fill="#fff" stroke="#111" stroke-width="1.2" />
<use href="#it" x="430" y="493"/>
<rect x="347.6" y="330.4" width="65.8" height="6" fill="#ffffcc" stroke="none" stroke-width="1" />
<line x1="347.6" y1="330.4" x2="413.4" y2="330.4" stroke="#111" stroke-width="1.3" />
<line x1="347.6" y1="336.4" x2="413.4" y2="336.4" stroke="#111" stroke-width="1.3" />
<line x1="363.0" y1="331.5" x2="363.0" y2="335.5" stroke="#c0c0c0" stroke-width="0.8" />
<line x1="366.7" y1="331.5" x2="366.7" y2="335.5" stroke="#c0c0c0" stroke-width="0.8" />
<line x1="370.4" y1="331.5" x2="370.4" y2="335.5" stroke="#c0c0c0" stroke-width="0.8" />
<line x1="374.1" y1="331.5" x2="374.1" y2="335.5" stroke="#c0c0c0" stroke-width="0.8" />
<line x1="377.8" y1="331.5" x2="377.8" y2="335.5" stroke="#c0c0c0" stroke-width="0.8" />
<line x1="381.5" y1="331.5" x2="381.5" y2="335.5" stroke="#c0c0c0" stroke-width="0.8" />
<line x1="385.2" y1="331.5" x2="385.2" y2="335.5" stroke="#c0c0c0" stroke-width="0.8" />
<line x1="388.9" y1="331.5" x2="388.9" y2="335.5" stroke="#c0c0c0" stroke-width="0.8" />
<line x1="392.6" y1="331.5" x2="392.6" y2="335.5" stroke="#c0c0c0" stroke-width="0.8" />
<rect x="412.3" y="330.8" width="3" height="5.8" fill="#11dd11" stroke="none" stroke-width="1" />
<path d="M413.2,285.4 H428.9 V292.7 H425.6 V337.7 H413.2 Z" fill="#fff650" stroke="none" stroke-width="1" />
<rect x="419.7" y="293.7" width="4.9" height="13.7" fill="url(#sd)" stroke="none" stroke-width="1" />
<rect x="419.7" y="307.4" width="5.4" height="22" fill="#ffffb8" stroke="none" stroke-width="1" />
<line x1="419.7" y1="307" x2="419.7" y2="329" stroke="#ff6600" stroke-width="1.2" />
<path d="M413.2,337.7 V285.4 H428.9 M419.2,292.7 H425.6 V337.7 H413.2" fill="none" stroke="#111" stroke-width="1.3" />
<rect x="416" y="288" width="3.5" height="3.5" fill="#cfe" stroke="#119911" stroke-width="1" />
<use href="#it" x="423" y="285"/>
<path d="M479,285.4 H493.5 V337.7 H482.4 V292.7 H479 Z" fill="#fff650" stroke="none" stroke-width="1" />
<rect x="483.4" y="293.7" width="4.6" height="13.7" fill="url(#sd)" stroke="none" stroke-width="1" />
<rect x="483" y="307.4" width="5" height="22" fill="#ffffb8" stroke="none" stroke-width="1" />
<line x1="488" y1="307" x2="488" y2="329" stroke="#ff6600" stroke-width="1.2" />
<path d="M479,285.4 H493.5 V337.7 H482.4 V292.7 H488.6" fill="none" stroke="#111" stroke-width="1.3" />
<path d="M428.9,283.9 H479 V370 Q479,377.9 471,377.9 H428.9 Z" fill="#fff650" stroke="none" stroke-width="1" />
<rect x="430.1" y="284.3" width="10.2" height="85.7" fill="url(#st)" stroke="none" stroke-width="1" />
<line x1="440.3" y1="284.3" x2="440.3" y2="370" stroke="#ff6600" stroke-width="1.2" />
<path d="M447.5,293.7 H459.8 V305 L458.5,310 V330 L460.5,336 L459,345 V355 L460,365 L456,371 H452 L448,367 L449,358 L447,350 V336 L449,330 V312 L446,305 Z" fill="url(#st)" stroke="#ff6600" stroke-width="1.2" />
<path d="M466,370 V292.7 H478.5 V370 Z" fill="url(#st)" stroke="none" stroke-width="1" />
<line x1="466" y1="292.7" x2="466" y2="370" stroke="#ff6600" stroke-width="1.2" />
<line x1="466" y1="292.7" x2="478.5" y2="292.7" stroke="#ff6600" stroke-width="1.2" />
<line x1="430" y1="370" x2="478.5" y2="370" stroke="#ff6600" stroke-width="1.2" />
<path d="M428.9,337.7 V283.9 H479 V370 Q479,377.9 471,377.9 H459.3 M449.2,377.9 H428.9 V337.7" fill="none" stroke="#111" stroke-width="1.3" />
<rect x="427.5" y="321.9" width="5" height="5" fill="#f4f4f4" stroke="#a0a0a0" stroke-width="1" />
<rect x="476.5" y="321.9" width="5" height="5" fill="#f4f4f4" stroke="#a0a0a0" stroke-width="1" />
<rect x="427.5" y="337.8" width="5" height="5" fill="#f4f4f4" stroke="#a0a0a0" stroke-width="1" />
<rect x="476.5" y="337.8" width="5" height="5" fill="#f4f4f4" stroke="#a0a0a0" stroke-width="1" />
<rect x="427.5" y="353.5" width="5" height="5" fill="#f4f4f4" stroke="#a0a0a0" stroke-width="1" />
<rect x="476.5" y="353.5" width="5" height="5" fill="#f4f4f4" stroke="#a0a0a0" stroke-width="1" />
<use href="#it" x="429" y="373"/>
<use href="#pl" x="443" y="376"/>
<use href="#pl" x="460" y="376"/>
<use href="#en" x="463" y="304"/>
<use href="#en" x="443" y="324"/>
<use href="#en" x="462" y="355"/>
<use href="#en" x="489" y="304"/>
<use href="#en" x="489" y="317"/>
<use href="#en" x="486" y="331"/>
<rect x="449.2" y="377.9" width="10.1" height="121.7" fill="#fff650" stroke="none" stroke-width="1" />
<line x1="450.3" y1="397.4" x2="458.3" y2="397.4" stroke="#b4bcc8" stroke-width="0.9" />
<line x1="450.3" y1="403.2" x2="458.3" y2="403.2" stroke="#b4bcc8" stroke-width="0.9" />
<line x1="450.3" y1="408.9" x2="458.3" y2="408.9" stroke="#b4bcc8" stroke-width="0.9" />
<line x1="450.3" y1="414.4" x2="458.3" y2="414.4" stroke="#b4bcc8" stroke-width="0.9" />
<line x1="450.3" y1="447.8" x2="458.3" y2="447.8" stroke="#b4bcc8" stroke-width="0.9" />
<line x1="450.3" y1="453.5" x2="458.3" y2="453.5" stroke="#b4bcc8" stroke-width="0.9" />
<line x1="450.3" y1="459.2" x2="458.3" y2="459.2" stroke="#b4bcc8" stroke-width="0.9" />
<line x1="450.3" y1="465" x2="458.3" y2="465" stroke="#b4bcc8" stroke-width="0.9" />
<line x1="450.3" y1="471.2" x2="458.3" y2="471.2" stroke="#b4bcc8" stroke-width="0.9" />
<line x1="449.2" y1="377.9" x2="449.2" y2="499.6" stroke="#111" stroke-width="1.3" />
<line x1="459.3" y1="377.9" x2="459.3" y2="499.6" stroke="#111" stroke-width="1.3" />
<rect x="455.5" y="418" width="4.2" height="4.2" fill="#88eeff" stroke="#5a8a9a" stroke-width="1" />
<use href="#it" x="447" y="433"/>
<path d="M430.4,499.6 C430.6,501.7 431.5,508.6 431.5,512.2 C431.5,515.9 430.2,518.8 430.4,521.5 C430.6,524.2 431.9,526.5 432.7,528.4 C433.5,530.3 433.3,532.0 435.0,533.0 C436.7,534.0 440.6,534.1 443.1,534.2 C445.6,534.3 447.3,533.4 450.0,533.5 C452.7,533.6 456.1,534.9 459.2,534.9 C462.3,534.9 465.7,533.9 468.4,533.5 C471.1,533.1 474.0,534.1 475.4,532.5 C476.8,530.9 476.5,527.2 476.5,523.8 C476.5,520.4 475.4,516.2 475.4,512.2 C475.4,508.2 476.3,501.7 476.5,499.6 Z" fill="url(#gy)" stroke="#ff9a33" stroke-width="1.3" />
<line x1="430.4" y1="499.6" x2="449.2" y2="499.6" stroke="#111" stroke-width="1.2" />
<line x1="459.3" y1="499.6" x2="476.5" y2="499.6" stroke="#111" stroke-width="1.2" />
<line x1="442.4" y1="500" x2="442.4" y2="521" stroke="#ff6600" stroke-width="1.2" />
<line x1="464.5" y1="500" x2="464.5" y2="521" stroke="#ff6600" stroke-width="1.2" />
<use href="#pl" x="432" y="503"/>
<use href="#pl" x="470" y="503"/>
<use href="#pl" x="432" y="513"/>
<use href="#pl" x="470" y="513"/>
<use href="#pl" x="432" y="524"/>
<use href="#pl" x="470" y="524"/>
<use href="#it" x="432" y="508"/>
<use href="#it" x="470" y="508"/>
<path d="M495.4,497.0 C494.8,498.3 492.0,502.0 491.5,505.0 C491.0,508.0 492.5,511.7 492.5,515.0 C492.5,518.3 491.2,522.3 491.5,525.0 C491.8,527.7 492.2,529.4 494.0,531.0 C495.8,532.6 498.7,534.1 502.0,534.5 C505.3,534.9 510.0,533.4 514.0,533.5 C518.0,533.6 522.7,535.7 526.0,535.3 C529.3,534.9 532.2,533.2 534.0,531.0 C535.8,528.8 536.2,525.5 536.5,522.0 C536.8,518.5 535.5,513.2 535.5,510.0 C535.5,506.8 536.8,505.2 536.5,503.0 C536.2,500.8 534.0,498.0 533.5,497.0 Z" fill="#ffffd2" stroke="#ff9a33" stroke-width="1.3" />
<path d="M495.4,435.5 H533.5 V455.3 H520.3 V492.6 H533.5 V498 H495.4 V492.6 H508.8 V455.3 H495.4 Z" fill="url(#gy2)" stroke="none" stroke-width="1" />
<rect x="496" y="493" width="37" height="8" fill="#fffbc0" stroke="none" stroke-width="1" />
<path d="M495.4,499 V492.6 H508.8 V455.3 H495.4 V435.5 H533.5 V455.3 H520.3 V492.6 H533.5 V499" fill="none" stroke="#111" stroke-width="1.3" />
<path d="M504.6,499.6 V521.5 M525,499.6 V521.5 M504.6,506 H525" fill="none" stroke="#ff6600" stroke-width="1.5" />
<use href="#pl" x="493" y="503"/>
<use href="#pl" x="531" y="503"/>
<use href="#pl" x="493" y="513"/>
<use href="#pl" x="531" y="513"/>
<use href="#pl" x="493" y="524"/>
<use href="#pl" x="531" y="524"/>
<use href="#it" x="493" y="508"/>
<use href="#it" x="532" y="508"/>
<rect x="508.6" y="494.6" width="3.2" height="3.2" fill="#fff" stroke="#111" stroke-width="1" />
<rect x="517.6" y="494.6" width="3.2" height="3.2" fill="#fff" stroke="#111" stroke-width="1" />
<line x1="501.9" y1="492.6" x2="501.9" y2="496" stroke="#111" stroke-width="1.4" />
<line x1="527.2" y1="492.6" x2="527.2" y2="496" stroke="#111" stroke-width="1.4" />
<rect x="569.5" y="298" width="7.5" height="6.5" fill="#ffffcc" stroke="#222" stroke-width="0.9" />
<rect x="577.0" y="298" width="7.5" height="6.5" fill="#ffff99" stroke="#222" stroke-width="0.9" />
<rect x="584.5" y="298" width="7.5" height="6.5" fill="#ffff66" stroke="#222" stroke-width="0.9" />
<rect x="592.0" y="298" width="7.5" height="6.5" fill="#ffee00" stroke="#222" stroke-width="0.9" />
<rect x="599.5" y="298" width="7.5" height="6.5" fill="#ffcc00" stroke="#222" stroke-width="0.9" />
<rect x="607.0" y="298" width="7.5" height="6.5" fill="#ff9900" stroke="#222" stroke-width="0.9" />
<rect x="614.5" y="298" width="7.5" height="6.5" fill="#ff6600" stroke="#222" stroke-width="0.9" />
<rect x="622.0" y="298" width="7.5" height="6.5" fill="#993300" stroke="#222" stroke-width="0.9" />
<rect x="569.5" y="298" width="60" height="6.5" fill="none" stroke="#111" stroke-width="1.2" />
<use href="#it" x="559" y="323"/>
<rect x="559" y="343" width="4" height="4" fill="#efe" stroke="#119911" stroke-width="1" />
<rect x="560" y="364" width="4.5" height="4.5" fill="#888" stroke="none" stroke-width="1" />
<rect x="559" y="363" width="4.5" height="4.5" fill="#88eeff" stroke="#4a8a9a" stroke-width="0.9" />
<use href="#en" x="559" y="410"/>
<use href="#ks" x="556" y="380"/>
<use href="#ks" x="509" y="439"/>
<use href="#ks" x="614" y="200"/>
<use href="#en" x="76" y="299"/>
<use href="#en" x="84" y="370"/>
<use href="#en" x="174" y="464"/>
<use href="#en" x="302" y="335"/>
<use href="#en" x="493" y="542"/>
<use href="#en" x="388" y="416"/>
<use href="#en" x="396" y="449"/>
<line x1="449.5" y1="298.1" x2="458.5" y2="298.1" stroke="#c4c4c4" stroke-width="1" />
<line x1="449.5" y1="302.5" x2="458.5" y2="302.5" stroke="#c4c4c4" stroke-width="1" />
<line x1="430.5" y1="310.2" x2="440" y2="310.2" stroke="#c4c4c4" stroke-width="1" />
<line x1="466.5" y1="310.2" x2="478.3" y2="310.2" stroke="#c4c4c4" stroke-width="1" />
<use href="#it" x="310" y="334"/>
<use href="#en" x="340" y="332"/>
<rect x="412" y="330.9" width="3.2" height="5.6" fill="#11dd11" stroke="none" stroke-width="1" />
<path d="M191.7,430.2 C192.4,430.4 194.5,430.6 195.7,431.7 C196.9,432.8 198.0,435.2 198.7,436.7 C199.4,438.2 199.6,440.0 199.8,440.7" fill="none" stroke="#111" stroke-width="1.2" />
<line x1="184.5" y1="58" x2="150" y2="152.5" stroke="#ff88cc" stroke-width="1"/>
<line x1="295" y1="116.5" x2="268.5" y2="147" stroke="#ff88cc" stroke-width="1"/>
<line x1="294.8" y1="197.3" x2="257.5" y2="186" stroke="#ff88cc" stroke-width="1"/>
<line x1="294.8" y1="201.6" x2="247.5" y2="188.5" stroke="#ff88cc" stroke-width="1"/>
<line x1="8" y1="240" x2="24.5" y2="299.5" stroke="#ff88cc" stroke-width="1"/>
<line x1="108" y1="238" x2="66.5" y2="274.5" stroke="#ff88cc" stroke-width="1"/>
<line x1="134.6" y1="236" x2="144.6" y2="286.5" stroke="#ff88cc" stroke-width="1"/>
<line x1="203.9" y1="250" x2="185" y2="324.5" stroke="#ff88cc" stroke-width="1"/>
<line x1="346" y1="290" x2="386" y2="237.5" stroke="#ff88cc" stroke-width="1"/>
<line x1="73.5" y1="313" x2="87" y2="307.5" stroke="#ff88cc" stroke-width="1"/>
<line x1="42.3" y1="401" x2="37.2" y2="333" stroke="#ff88cc" stroke-width="1"/>
<line x1="21" y1="422" x2="25.8" y2="367.5" stroke="#ff88cc" stroke-width="1"/>
<line x1="133" y1="454" x2="158.5" y2="382.5" stroke="#ff88cc" stroke-width="1"/>
<line x1="190" y1="452" x2="165" y2="435.5" stroke="#ff88cc" stroke-width="1"/>
<line x1="298" y1="405" x2="311.5" y2="337.5" stroke="#ff88cc" stroke-width="1"/>
<line x1="375" y1="460" x2="396.5" y2="451" stroke="#c8a0f0" stroke-width="1"/>
<line x1="388" y1="482" x2="431.5" y2="494.5" stroke="#ff88cc" stroke-width="1"/>
<line x1="476" y1="420.5" x2="450.5" y2="434.5" stroke="#ff88cc" stroke-width="1"/>
<line x1="437" y1="50" x2="456.5" y2="71.5" stroke="#ff88cc" stroke-width="1"/>
<line x1="569" y1="61" x2="530.5" y2="136.5" stroke="#ff88cc" stroke-width="1"/>
<line x1="583.5" y1="151.7" x2="545" y2="125.5" stroke="#ff88cc" stroke-width="1"/>
<line x1="461.6" y1="211" x2="485" y2="135.5" stroke="#ff88cc" stroke-width="1"/>
<line x1="570.6" y1="250" x2="520.5" y2="154" stroke="#ff88cc" stroke-width="1"/>
<line x1="446.9" y1="261.3" x2="425.5" y2="285.5" stroke="#ff88cc" stroke-width="1"/>
<line x1="624" y1="93" x2="647" y2="89" stroke="#ff88cc" stroke-width="1"/>
<line x1="630.5" y1="154" x2="646" y2="150" stroke="#ff88cc" stroke-width="1"/>
<line x1="639.5" y1="197" x2="648.6" y2="210" stroke="#ff88cc" stroke-width="1"/>
<path d="M107.0,114.5 C110.8,115.7 122.8,120.1 130.0,121.5 C137.2,122.9 142.5,123.4 150.0,123.0 C157.5,122.6 166.7,121.2 175.0,119.0 C183.3,116.8 193.3,112.4 200.0,110.0 C206.7,107.6 210.2,105.6 215.0,104.5 C219.8,103.4 225.8,103.2 229.0,103.5 C232.2,103.8 233.6,105.6 234.5,106.0" fill="none" stroke="#4075f5" stroke-width="1.35" stroke-dasharray="4.5,3"/>
<path d="M104.5,113.5 L111.7,112.9 L109.3,118.9 Z" fill="#3d6ef5"/>
<path d="M234.8,102.5 L237.4,109.3 L230.9,108.6 Z" fill="#3d6ef5"/>
<path d="M206.0,91.0 C210.8,90.0 227.9,86.0 234.8,84.8 C241.7,83.5 240.7,82.7 247.3,83.5 C254.0,84.3 266.0,87.3 274.7,89.8 C283.4,92.3 293.0,96.9 299.7,98.5 C306.4,100.1 310.1,99.7 314.6,99.3 C319.2,98.9 324.9,96.5 327.0,96.0" fill="none" stroke="#4075f5" stroke-width="1.35" stroke-dasharray="4.5,3"/>
<path d="M202.5,92.5 L207.6,87.3 L209.7,93.4 Z" fill="#3d6ef5"/>
<path d="M332.5,94.0 L327.4,99.2 L325.3,93.1 Z" fill="#3d6ef5"/>
<path d="M521.5,33.0 C523.7,33.9 529.7,37.4 534.6,38.1 C539.5,38.8 544.8,38.1 550.7,37.1 C556.6,36.1 564.3,33.8 570.0,32.1 C575.7,30.4 580.2,28.1 585.0,26.9 C589.8,25.7 594.9,25.1 598.7,25.0 C602.5,24.9 606.5,26.2 608.0,26.4" fill="none" stroke="#4075f5" stroke-width="1.35" stroke-dasharray="4.5,3"/>
<path d="M518.5,30.5 L525.7,31.8 L521.8,37.0 Z" fill="#3d6ef5"/>
<path d="M615.0,31.0 L608.5,27.8 L613.7,23.9 Z" fill="#3d6ef5"/>
<path d="M24.0,158.0 C23.6,158.8 22.4,159.9 21.8,162.8 C21.2,165.7 20.1,171.3 20.5,175.6 C20.9,179.9 22.3,184.7 24.4,188.5 C26.5,192.3 28.8,194.9 33.3,198.7 C37.8,202.5 44.9,207.2 51.3,211.5 C57.7,215.8 65.4,220.6 71.8,224.4 C78.2,228.2 83.7,231.2 89.7,234.6 C95.7,238.0 102.1,241.5 107.7,244.9 C113.3,248.3 119.2,251.7 123.1,255.1 C126.9,258.5 129.5,262.0 130.8,265.4 C132.1,268.8 131.2,273.2 130.8,275.6 C130.4,278.0 128.9,279.3 128.5,280.0" fill="none" stroke="#4075f5" stroke-width="1.35" stroke-dasharray="4.5,3"/>
<path d="M24.8,152.5 L26.7,159.5 L20.3,158.2 Z" fill="#3d6ef5"/>
<path d="M124.5,283.0 L129.3,277.6 L131.7,283.6 Z" fill="#3d6ef5"/>
<path d="M28.0,253.5 C28.9,253.8 30.7,253.8 33.3,255.1 C35.9,256.4 40.2,260.6 43.6,261.5 C47.0,262.4 51.1,261.0 53.8,260.3 C56.5,259.6 59.0,258.0 60.0,257.5" fill="none" stroke="#4075f5" stroke-width="1.35" stroke-dasharray="4.5,3"/>
<path d="M24.5,252.0 L31.7,251.4 L29.3,257.4 Z" fill="#3d6ef5"/>
<path d="M63.5,256.0 L58.2,261.0 L56.3,254.8 Z" fill="#3d6ef5"/>
<path d="M71.0,261.0 C72.0,260.4 73.8,258.7 76.9,257.7 C80.0,256.7 84.6,255.8 89.7,255.1 C94.8,254.4 102.1,253.4 107.7,253.8 C113.3,254.2 117.7,256.0 123.1,257.7 C128.5,259.4 134.2,262.7 140.0,264.1 C145.8,265.5 153.9,266.2 158.2,266.3 C162.5,266.4 164.7,264.8 166.0,264.5" fill="none" stroke="#4075f5" stroke-width="1.35" stroke-dasharray="4.5,3"/>
<path d="M68.5,263.5 L72.6,257.5 L75.8,263.2 Z" fill="#3d6ef5"/>
<path d="M171.0,262.5 L165.7,267.5 L163.8,261.3 Z" fill="#3d6ef5"/>
<path d="M150.0,302.5 C150.5,302.3 149.2,303.1 153.0,301.5 C156.8,299.9 166.6,296.4 173.0,293.0 C179.4,289.6 186.8,284.8 191.7,281.4 C196.6,278.0 197.1,275.6 202.7,272.4 C208.3,269.2 217.8,265.0 225.3,262.2 C232.9,259.4 240.4,257.2 248.0,255.4 C255.6,253.6 263.1,252.1 270.6,251.3 C278.2,250.6 286.5,250.6 293.3,250.9 C300.1,251.2 305.3,252.0 311.4,253.1 C317.5,254.2 323.5,255.8 330.0,257.7 C336.5,259.6 341.8,261.2 350.2,264.3 C358.6,267.4 371.3,272.4 380.4,276.4 C389.5,280.4 398.3,284.6 404.6,288.4 C410.9,292.2 415.8,297.2 418.0,299.0" fill="none" stroke="#4075f5" stroke-width="1.35" stroke-dasharray="4.5,3"/>
<path d="M148.3,304.8 L150.9,311.6 L144.4,310.9 Z" fill="#3d6ef5"/>
<path d="M423.5,305.0 L417.0,301.8 L422.2,297.9 Z" fill="#3d6ef5"/>
<path d="M213.0,302.5 C213.5,302.4 213.9,302.4 216.0,302.0 C218.1,301.6 220.0,302.9 225.3,300.0 C230.6,297.1 240.4,289.5 248.0,284.9 C255.6,280.3 263.1,276.4 270.6,272.4 C278.2,268.4 286.5,263.8 293.3,261.0 C300.1,258.2 305.3,257.0 311.4,255.4 C317.5,253.8 323.5,251.9 330.0,251.3 C336.5,250.7 341.8,250.7 350.2,251.6 C358.6,252.5 370.3,254.1 380.4,256.7 C390.5,259.3 400.5,263.5 410.6,267.3 C420.7,271.1 431.7,275.4 440.8,279.4 C449.9,283.4 458.6,287.7 465.0,291.5 C471.4,295.3 476.7,300.2 479.0,302.0" fill="none" stroke="#4075f5" stroke-width="1.35" stroke-dasharray="4.5,3"/>
<path d="M210.8,305.5 L214.1,312.0 L207.6,312.0 Z" fill="#3d6ef5"/>
<path d="M485.0,306.5 L478.0,304.7 L482.2,299.8 Z" fill="#3d6ef5"/>
<path d="M437.0,240.5 C440.2,239.9 447.8,237.8 456.0,237.0 C464.2,236.2 476.3,236.2 486.0,235.6 C495.7,235.0 509.3,233.8 514.0,233.5" fill="none" stroke="#4075f5" stroke-width="1.35" stroke-dasharray="4.5,3"/>
<path d="M432.5,242.0 L437.6,236.8 L439.7,242.9 Z" fill="#3d6ef5"/>
<path d="M520.5,231.5 L516.1,237.3 L513.2,231.5 Z" fill="#3d6ef5"/>
<path d="M184.0,340.5 C186.0,341.1 190.8,342.9 196.0,343.9 C201.2,344.9 209.2,346.0 215.0,346.5 C220.8,347.0 225.0,347.6 230.6,346.9 C236.2,346.2 245.1,343.4 248.7,342.3 C252.3,341.2 251.4,340.8 252.0,340.5" fill="none" stroke="#4075f5" stroke-width="1.35" stroke-dasharray="4.5,3"/>
<path d="M180.0,338.0 L187.2,338.6 L183.9,344.1 Z" fill="#3d6ef5"/>
<path d="M256.0,338.0 L252.4,344.3 L248.8,338.9 Z" fill="#3d6ef5"/>
<path d="M177.7,306.3 C175.3,308.1 168.6,314.2 163.2,317.2 C157.8,320.2 152.2,322.6 145.0,324.4 C137.8,326.2 128.8,327.8 119.7,328.1 C110.6,328.4 101.5,327.8 90.6,326.3 C79.7,324.8 64.2,321.1 54.4,319.0 C44.5,316.9 35.3,314.4 31.5,313.5" fill="none" stroke="#ff3030" stroke-width="1.5" stroke-dasharray="6,4"/>
<path d="M26.5,312.5 L33.6,310.9 L32.0,317.2 Z" fill="#ff3030"/>
<path d="M446.1,296.6 C444.4,297.7 441.1,300.5 436.1,303.3 C431.1,306.1 423.4,310.7 416.2,313.2 C409.0,315.7 402.4,317.0 393.0,318.2 C383.6,319.4 370.8,320.5 359.7,320.5 C348.6,320.5 337.6,319.4 326.5,318.2 C315.4,317.0 302.4,314.8 293.2,313.2 C283.9,311.6 274.7,309.3 271.0,308.5" fill="none" stroke="#ff3030" stroke-width="1.5" stroke-dasharray="6,4"/>
<path d="M266.0,307.0 L273.2,305.8 L271.3,312.0 Z" fill="#ff3030"/>
<g opacity="0.45">
<text x="3.8" y="19.5" fill="#888" stroke="#888" stroke-width="0.2" font-size="18" textLength="92.5" lengthAdjust="spacingAndGlyphs">嵐の祭祀場</text>
<text x="101.3" y="19.5" fill="#888" stroke="#888" stroke-width="0.2" font-size="17" textLength="10.0" lengthAdjust="spacingAndGlyphs">2</text>
<text x="3.8" y="44.6" fill="#888" stroke="#888" stroke-width="0.2" font-size="18" textLength="114.1" lengthAdjust="spacingAndGlyphs">審判者の要石</text>
</g>
<text x="2.8" y="18.5" fill="#2a2a2a" stroke="#2a2a2a" stroke-width="0.3" font-size="18" textLength="92.5" lengthAdjust="spacingAndGlyphs">嵐の祭祀場</text>
<text x="100.3" y="18.5" fill="#2a2a2a" stroke="#2a2a2a" stroke-width="0.3" font-size="17" textLength="10.0" lengthAdjust="spacingAndGlyphs">2</text>
<text x="2.8" y="43.6" fill="#2a2a2a" stroke="#2a2a2a" stroke-width="0.3" font-size="18" textLength="114.1" lengthAdjust="spacingAndGlyphs">審判者の要石</text>
<text x="156.2" y="54.6" fill="#800000" stroke="#800000" stroke-width="0.25" font-size="10.8" textLength="94.5" lengthAdjust="spacingAndGlyphs">伝承の戦士のソウル</text>
<text x="394.6" y="47.1" fill="#800000" stroke="#800000" stroke-width="0.25" font-size="10.8" textLength="53.7" lengthAdjust="spacingAndGlyphs">儚い瞳の石</text>
<text x="518.7" y="53.0" fill="#800000" stroke="#800000" stroke-width="0.25" font-size="10.8" textLength="94.3" lengthAdjust="spacingAndGlyphs">伝承の戦士のソウル</text>
<text x="296.6" y="117.5" fill="#800000" stroke="#800000" stroke-width="0.25" font-size="10.8" textLength="28.6" lengthAdjust="spacingAndGlyphs">ダガー</text>
<text x="297.4" y="205.6" fill="#800000" stroke="#800000" stroke-width="0.25" font-size="10.8" textLength="41.7" lengthAdjust="spacingAndGlyphs">三日月草</text>
<text x="343.5" y="205.6" fill="#800000" stroke="#800000" stroke-width="0.25" font-size="10.5" textLength="10.8" lengthAdjust="spacingAndGlyphs">×1</text>
<text x="49.6" y="165.3" fill="#800000" stroke="#800000" stroke-width="0.25" font-size="10.8" textLength="32.0" lengthAdjust="spacingAndGlyphs">満月草</text>
<text x="85.1" y="165.3" fill="#800000" stroke="#800000" stroke-width="0.25" font-size="10.5" textLength="10.4" lengthAdjust="spacingAndGlyphs">×5</text>
<text x="2.6" y="227.5" fill="#800000" stroke="#800000" stroke-width="0.25" font-size="10.8" textLength="48.0" lengthAdjust="spacingAndGlyphs">妖刀「誠」</text>
<text x="2.6" y="237.5" fill="#800000" stroke="#800000" stroke-width="0.25" font-size="10.8" textLength="83.0" lengthAdjust="spacingAndGlyphs">(ソウル傾向が白)</text>
<text x="92.1" y="232.7" fill="#800000" stroke="#800000" stroke-width="0.25" font-size="10.8" textLength="100.5" lengthAdjust="spacingAndGlyphs">名も無き戦士のソウル</text>
<text x="193.6" y="246.3" fill="#800000" stroke="#800000" stroke-width="0.25" font-size="10.8" textLength="101.0" lengthAdjust="spacingAndGlyphs">名も無き戦士のソウル</text>
<text x="233.4" y="279.8" fill="#800000" stroke="#800000" stroke-width="0.25" font-size="10.8" textLength="31.7" lengthAdjust="spacingAndGlyphs">満月草</text>
<text x="268.6" y="279.8" fill="#800000" stroke="#800000" stroke-width="0.25" font-size="10.5" textLength="11.7" lengthAdjust="spacingAndGlyphs">×2</text>
<text x="295.3" y="304.1" fill="#800000" stroke="#800000" stroke-width="0.25" font-size="10.8" textLength="94.0" lengthAdjust="spacingAndGlyphs">伝承の戦士のソウル</text>
<text x="442.5" y="223.5" fill="#800000" stroke="#800000" stroke-width="0.25" font-size="10.8" textLength="54.5" lengthAdjust="spacingAndGlyphs">月影石の塊</text>
<text x="446.2" y="260.9" fill="#800000" stroke="#800000" stroke-width="0.25" font-size="10.8" textLength="54.3" lengthAdjust="spacingAndGlyphs">儚い瞳の石</text>
<text x="520.9" y="260.3" fill="#800000" stroke="#800000" stroke-width="0.25" font-size="10.8" textLength="84.4" lengthAdjust="spacingAndGlyphs">白くべたつくなにか</text>
<text x="64.0" y="311.5" fill="#800000" stroke="#800000" stroke-width="0.25" font-size="10">伝</text>
<text x="64.0" y="321.6" fill="#800000" stroke="#800000" stroke-width="0.25" font-size="10">承</text>
<text x="64.0" y="331.7" fill="#800000" stroke="#800000" stroke-width="0.25" font-size="10">の</text>
<text x="64.0" y="341.8" fill="#800000" stroke="#800000" stroke-width="0.25" font-size="10">戦</text>
<text x="64.0" y="352.0" fill="#800000" stroke="#800000" stroke-width="0.25" font-size="10">士</text>
<text x="64.0" y="362.1" fill="#800000" stroke="#800000" stroke-width="0.25" font-size="10">の</text>
<text x="64.0" y="372.2" fill="#800000" stroke="#800000" stroke-width="0.25" font-size="10">ソ</text>
<text x="64.0" y="382.3" fill="#800000" stroke="#800000" stroke-width="0.25" font-size="10">ウ</text>
<text x="64.0" y="392.4" fill="#800000" stroke="#800000" stroke-width="0.25" font-size="10">ル</text>
<text x="35.9" y="413.9" fill="#800000" stroke="#800000" stroke-width="0.25" font-size="10.8" textLength="42.7" lengthAdjust="spacingAndGlyphs">三日月草</text>
<text x="82.1" y="413.9" fill="#800000" stroke="#800000" stroke-width="0.25" font-size="10.5" textLength="10.9" lengthAdjust="spacingAndGlyphs">×3</text>
<text x="2.5" y="438.0" fill="#800000" stroke="#800000" stroke-width="0.25" font-size="10.8" textLength="65.1" lengthAdjust="spacingAndGlyphs">月影石の欠片</text>
<text x="70.6" y="438.0" fill="#800000" stroke="#800000" stroke-width="0.25" font-size="10.5" textLength="10.3" lengthAdjust="spacingAndGlyphs">×2</text>
<text x="83.0" y="467.0" fill="#800000" stroke="#800000" stroke-width="0.25" font-size="10.8" textLength="64.8" lengthAdjust="spacingAndGlyphs">月影石の欠片</text>
<text x="194.5" y="402.6" fill="#800000" stroke="#800000" stroke-width="0.25" font-size="10.8" textLength="33.6" lengthAdjust="spacingAndGlyphs">半月草</text>
<text x="230.6" y="402.6" fill="#800000" stroke="#800000" stroke-width="0.25" font-size="10.5" textLength="10.5" lengthAdjust="spacingAndGlyphs">×5</text>
<text x="193.2" y="459.3" fill="#800000" stroke="#800000" stroke-width="0.25" font-size="10.8" textLength="100.8" lengthAdjust="spacingAndGlyphs">名も無き戦士のソウル</text>
<text x="286.5" y="414.3" fill="#800000" stroke="#800000" stroke-width="0.25" font-size="10.8" textLength="93.5" lengthAdjust="spacingAndGlyphs">伝承の戦士のソウル</text>
<text x="338.5" y="430.9" fill="#800080" stroke="#800080" stroke-width="0.25" font-size="10.8" textLength="49.4" lengthAdjust="spacingAndGlyphs">結晶トカゲ</text>
<text x="294.9" y="468.7" fill="#800080" stroke="#800080" stroke-width="0.25" font-size="10.8" textLength="81.9" lengthAdjust="spacingAndGlyphs">黒(原生デーモン)</text>
<text x="350.1" y="485.3" fill="#800000" stroke="#800000" stroke-width="0.25" font-size="10.8" textLength="32.9" lengthAdjust="spacingAndGlyphs">白の弓</text>
<text x="350.1" y="495.2" fill="#800000" stroke="#800000" stroke-width="0.25" font-size="10.8" textLength="33.0" lengthAdjust="spacingAndGlyphs">白の矢</text>
<text x="387.1" y="495.2" fill="#800000" stroke="#800000" stroke-width="0.25" font-size="10.5" textLength="15.2" lengthAdjust="spacingAndGlyphs">×18</text>
<text x="334.5" y="518.1" fill="#800000" stroke="#800000" stroke-width="0.25" font-size="10.8" textLength="95.0" lengthAdjust="spacingAndGlyphs">伝承の戦士のソウル</text>
<text x="380.5" y="380.7" fill="#800000" stroke="#800000" stroke-width="0.25" font-size="10.8" textLength="31.6" lengthAdjust="spacingAndGlyphs">クナイ</text>
<text x="412.6" y="380.7" fill="#800000" stroke="#800000" stroke-width="0.25" font-size="10.5" textLength="14.6" lengthAdjust="spacingAndGlyphs">×11</text>
<text x="460.9" y="416.0" fill="#008080" stroke="#008080" stroke-width="0.25" font-size="10.8" textLength="11.2" lengthAdjust="spacingAndGlyphs">店</text>
<text x="475.2" y="418.8" fill="#800000" stroke="#800000" stroke-width="0.25" font-size="10.8" textLength="61.9" lengthAdjust="spacingAndGlyphs">ソウルの名残</text>
<text x="540.6" y="418.8" fill="#800000" stroke="#800000" stroke-width="0.25" font-size="10.5" textLength="10.4" lengthAdjust="spacingAndGlyphs">×3</text>
<text x="540.7" y="515.5" fill="#800000" stroke="#800000" stroke-width="0.25" font-size="10.8" textLength="53.7" lengthAdjust="spacingAndGlyphs">儚い瞳の石</text>
<text x="580.1" y="165.0" fill="#800000" stroke="#800000" stroke-width="0.25" font-size="10">浪</text>
<text x="580.1" y="175.6" fill="#800000" stroke="#800000" stroke-width="0.25" font-size="10">人</text>
<text x="580.1" y="186.1" fill="#800000" stroke="#800000" stroke-width="0.25" font-size="10">の</text>
<text x="580.1" y="196.7" fill="#800000" stroke="#800000" stroke-width="0.25" font-size="10">指</text>
<text x="580.1" y="207.3" fill="#800000" stroke="#800000" stroke-width="0.25" font-size="10">輪</text>
<text x="568.4" y="165.8" fill="#800000" stroke="#800000" stroke-width="0.25" font-size="10">柄</text>
<text x="568.4" y="176.4" fill="#800000" stroke="#800000" stroke-width="0.25" font-size="10">無</text>
<text x="568.4" y="187.0" fill="#800000" stroke="#800000" stroke-width="0.25" font-size="10">し</text>
<text x="648.8" y="38.1" fill="#800000" stroke="#800000" stroke-width="0.25" font-size="10">伝</text>
<text x="648.8" y="48.3" fill="#800000" stroke="#800000" stroke-width="0.25" font-size="10">説</text>
<text x="648.8" y="58.6" fill="#800000" stroke="#800000" stroke-width="0.25" font-size="10">の</text>
<text x="648.8" y="68.8" fill="#800000" stroke="#800000" stroke-width="0.25" font-size="10">戦</text>
<text x="648.8" y="79.1" fill="#800000" stroke="#800000" stroke-width="0.25" font-size="10">士</text>
<text x="648.8" y="89.3" fill="#800000" stroke="#800000" stroke-width="0.25" font-size="10">の</text>
<text x="648.8" y="99.6" fill="#800000" stroke="#800000" stroke-width="0.25" font-size="10">ソ</text>
<text x="648.8" y="109.8" fill="#800000" stroke="#800000" stroke-width="0.25" font-size="10">ウ</text>
<text x="648.8" y="120.1" fill="#800000" stroke="#800000" stroke-width="0.25" font-size="10">ル</text>
<text x="647.6" y="138.0" fill="#800000" stroke="#800000" stroke-width="0.25" font-size="10">満</text>
<text x="647.6" y="148.7" fill="#800000" stroke="#800000" stroke-width="0.25" font-size="10">月</text>
<text x="647.6" y="159.3" fill="#800000" stroke="#800000" stroke-width="0.25" font-size="10">草</text>
<text x="649.2" y="210.0" fill="#800000" stroke="#800000" stroke-width="0.25" font-size="10">蟇</text>
<text x="649.2" y="220.6" fill="#800000" stroke="#800000" stroke-width="0.25" font-size="10">目</text>
<text x="649.2" y="231.3" fill="#800000" stroke="#800000" stroke-width="0.25" font-size="10">矢</text>
<text x="0" y="0" fill="#800000" stroke="#800000" stroke-width="0.3" font-size="10.5" transform="translate(650.5,160.5) rotate(90)">×2</text>
<text x="0" y="0" fill="#800000" stroke="#800000" stroke-width="0.3" font-size="10.5" transform="translate(651,235) rotate(90)" textLength="14" lengthAdjust="spacingAndGlyphs">×21</text>
<text x="182.9" y="97.4" fill="#800080" stroke="#800080" stroke-width="0.25" font-size="10.8" textLength="10.3" lengthAdjust="spacingAndGlyphs">黒</text>
<text x="159.6" y="154.0" fill="#800080" stroke="#800080" stroke-width="0.25" font-size="10.8" textLength="10.7" lengthAdjust="spacingAndGlyphs">黒</text>
<text x="183.8" y="149.9" fill="#800080" stroke="#800080" stroke-width="0.25" font-size="10.8" textLength="10.2" lengthAdjust="spacingAndGlyphs">黒</text>
<path d="M183,98.8 H192 M160,155.3 H169 M184,151.2 H193" stroke="#800080" stroke-width="1" stroke-dasharray="1,1"/>
<text x="258.6" y="136.7" fill="#800080" stroke="#800080" stroke-width="0.25" font-size="10.8" textLength="10.7" lengthAdjust="spacingAndGlyphs">透</text>
<text x="235.5" y="175.7" fill="#800080" stroke="#800080" stroke-width="0.25" font-size="10.8" textLength="11.4" lengthAdjust="spacingAndGlyphs">魔</text>
<text x="259.1" y="208.1" fill="#800080" stroke="#800080" stroke-width="0.25" font-size="10.8" textLength="11.8" lengthAdjust="spacingAndGlyphs">透</text>
<text x="441.9" y="138.6" fill="#800080" stroke="#800080" stroke-width="0.25" font-size="10.8" textLength="10.5" lengthAdjust="spacingAndGlyphs">魔</text>
<text x="609.0" y="188.8" fill="#800080" stroke="#800080" stroke-width="0.25" font-size="10.8" textLength="21.2" lengthAdjust="spacingAndGlyphs">ボス</text>
<text x="28.9" y="294.8" fill="#800080" stroke="#800080" stroke-width="0.25" font-size="10.8" textLength="11.7" lengthAdjust="spacingAndGlyphs">強</text>
<text x="244.7" y="307.7" fill="#800080" stroke="#800080" stroke-width="0.25" font-size="10.8" textLength="11.3" lengthAdjust="spacingAndGlyphs">魔</text>
<text x="326.4" y="338.6" fill="#800080" stroke="#800080" stroke-width="0.25" font-size="10.8" textLength="11.9" lengthAdjust="spacingAndGlyphs">強</text>
<text x="556.2" y="305.0" fill="#e8a800" stroke="#e8a800" stroke-width="0.25" font-size="10.8" textLength="10.4" lengthAdjust="spacingAndGlyphs">低</text>
<text x="631.0" y="305.0" fill="#993300" stroke="#993300" stroke-width="0.25" font-size="10.8" textLength="11.6" lengthAdjust="spacingAndGlyphs">高</text>
<text x="571.6" y="329.3" fill="#800000" stroke="#800000" stroke-width="0.25" font-size="10.8" textLength="38.2" lengthAdjust="spacingAndGlyphs">アイテム</text>
<text x="571.6" y="349.9" fill="#008000" stroke="#008000" stroke-width="0.25" font-size="10.8" textLength="11.0" lengthAdjust="spacingAndGlyphs">罠</text>
<text x="572.0" y="368.9" fill="#008080" stroke="#008080" stroke-width="0.25" font-size="10.8" textLength="70.5" lengthAdjust="spacingAndGlyphs">イベントポイント</text>
<text x="572.0" y="392.0" fill="#000080" stroke="#000080" stroke-width="0.25" font-size="10.8" textLength="22.0" lengthAdjust="spacingAndGlyphs">要石</text>
<text x="571.7" y="413.7" fill="#800080" stroke="#800080" stroke-width="0.25" font-size="10.8" textLength="11.2" lengthAdjust="spacingAndGlyphs">敵</text>
<text x="571.6" y="427.5" fill="#800080" stroke="#800080" stroke-width="0.25" font-size="10.8" textLength="59.6" lengthAdjust="spacingAndGlyphs">(強:強い敵)</text>
<text x="571.6" y="440.1" fill="#800080" stroke="#800080" stroke-width="0.25" font-size="10.8" textLength="69.7" lengthAdjust="spacingAndGlyphs">(魔:魔法使い)</text>
<text x="571.6" y="454.4" fill="#800080" stroke="#800080" stroke-width="0.25" font-size="10.8" textLength="84.8" lengthAdjust="spacingAndGlyphs">(透:敵の攻撃を防</text>
<text x="571.6" y="468.7" fill="#800080" stroke="#800080" stroke-width="0.25" font-size="10.8" textLength="77.0" lengthAdjust="spacingAndGlyphs">御するまで透明)</text>
<text x="571.6" y="482.6" fill="#800080" stroke="#800080" stroke-width="0.25" font-size="10.8" textLength="84.8" lengthAdjust="spacingAndGlyphs">(黒:ソウル傾向黒</text>
<text x="571.6" y="495.6" fill="#800080" stroke="#800080" stroke-width="0.25" font-size="10.8" textLength="36.3" lengthAdjust="spacingAndGlyphs">で出現)</text>
</svg>
</body></html>
